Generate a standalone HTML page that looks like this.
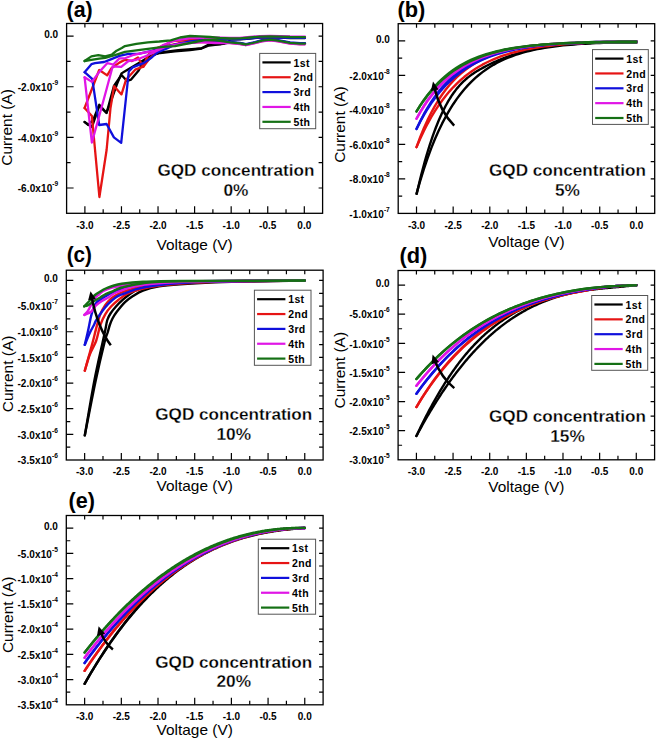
<!DOCTYPE html><html><head><meta charset="utf-8"><style>html,body{margin:0;padding:0;background:#fff;}svg{display:block}</style></head><body>
<svg width="656" height="739" viewBox="0 0 656 739">
<rect width="656" height="739" fill="#fff"/>
<g font-family='"Liberation Sans", sans-serif'>
<clipPath id="cpa"><rect x="66.6" y="23.5" width="256" height="189.8"/></clipPath>
<g clip-path="url(#cpa)" fill="none" stroke-width="2.3" stroke-linejoin="round" stroke-linecap="round">
<path d="M305 38.1 L290 38 L280 37.7 L270 37.4 L260 37.6 L250 38.5 L240 39.3 L230 39.5 L228.3 42.2 L221 44 L208.8 44.6 L201.5 48.3 L178.3 50.1 L164.6 51.8 L157.8 53 L147.9 57.5 L136.4 64.4 L125 71.2 L121.5 73.4 L116.9 84.3 L109.6 105 L106.4 112.8 L99.3 104.7 L93.2 119.9 L88.1 125 L84.6 122" stroke="#000000"/>
<path d="M84.6 122 L91.9 127 L99.2 106 L106.6 113 L113.9 86 L121.5 75 L127 81 L131.1 79.6 L138.7 70.5 L141.8 64.4 L150 56 L160 53 L175 51.4 L190 50 L201.5 48.5 L209 45.5 L225 43.5 L230 42.3 L240 43.3 L246 44.5 L255 42.5 L262 40.6 L270 39.7 L278 40.6 L290 42.8 L300 43.6 L305 43.6" stroke="#000000"/>
<path d="M305 37.5 L290 37.4 L280 37.1 L270 36.8 L260 37 L250 37.9 L240 38.7 L230 38.9 L220 40.5 L200 40 L180 40.5 L172 41 L165.8 44.6 L157 48 L151.2 52 L147.9 55.2 L143.3 66.7 L138 57.5 L132 61 L125 59.8 L119.4 62.6 L113.9 66.5 L111.5 68.1 L107.2 75.4 L101.1 71.2 L99.2 70 L91.9 89 L84.6 108" stroke="#e61414"/>
<path d="M84.6 108 L91.9 116 L99.4 197 L106.6 150 L110.5 108 L114.1 86.2 L121.5 94.4 L126 79.8 L135.2 69.7 L143.3 66.7 L150 58 L158 51 L166 46 L180 43 L200 42 L220 42 L230 42.8 L240 43.8 L246 45 L255 43 L262 41.1 L270 40.2 L278 41.1 L290 43.3 L300 44.1 L305 44.1" stroke="#e61414"/>
<path d="M305 43.2 L300 43.2 L290 42.4 L278 40.2 L270 39.3 L262 40.2 L255 42.1 L246 44.1 L240 42.9 L230 41.9 L210 40 L198 41.9 L180.4 43.7 L165.8 46.5 L154.8 50.1 L138.4 53.8 L128.5 53.8 L119.4 55.9 L110.2 59.6 L104.1 62 L95 63.2 L91.4 64.2 L84.6 72.2" stroke="#1010dc"/>
<path d="M84.6 72.2 L92.2 78.8 L99.2 125 L106.6 124 L113.9 137.4 L121.2 142.9 L128.8 71.5 L132.6 67.4 L144 62.9 L151.7 57.5 L157.8 52.2 L166.9 48.4 L175 44.6 L190 41.5 L210 39.5 L230 39.3 L240 39.1 L250 38.3 L260 37.4 L270 37.2 L280 37.5 L290 37.8 L305 37.9" stroke="#1010dc"/>
<path d="M305 36.6 L290 36.5 L280 36.2 L270 35.9 L260 36.1 L250 37 L240 37.8 L230 38 L210 37.5 L190 38 L175 40.5 L163.1 45 L155.5 50.7 L144 52.6 L132.6 55.2 L125 58.3 L119.4 58.4 L113.3 64.5 L107.2 63.2 L99.2 72 L91.9 81.9 L84.6 77.3" stroke="#e016e6"/>
<path d="M84.6 77.3 L91.9 142.5 L99.2 116 L106.6 89 L112.7 66.3 L121.2 66.9 L128.5 61 L136.4 59.8 L147.9 55.2 L157 50.7 L165 47 L180 44 L200 42 L215 43 L230 43 L240 44 L246 45.2 L255 43.2 L262 41.3 L270 40.4 L278 41.3 L290 43.5 L300 44.3 L305 44.3" stroke="#e016e6"/>
<path d="M84.6 61 L91.4 56.4 L98.3 55.2 L105.2 56.4 L112 54.5 L116.6 50.7 L121.8 48 L125 46.1 L136.4 43.8 L147.9 42.3 L159.3 41.5 L170.7 40.4 L180 37.5 L190 36 L200 36.3 L210 37 L220 38 L230 38.5 L240 38.3 L250 37.5 L260 36.6 L270 36.4 L280 36.7 L290 37 L305 37.1" stroke="#157015"/>
<path d="M84.6 61 L89.9 60.2 L99.1 58.7 L105.2 57.9 L112 56 L118.1 54.1 L125 51.8 L140.2 49.9 L151.7 48.4 L163.1 46.9 L175 46.1 L185 44 L195 42 L205 40 L215 40 L230 42.3 L240 43.3 L246 44.5 L255 42.5 L262 40.6 L270 39.7 L278 40.6 L290 42.8 L300 43.6 L305 43.6" stroke="#157015"/>
</g>
<rect x="66.6" y="23.5" width="256" height="189.8" fill="none" stroke="#000" stroke-width="1.3"/>
<path d="M84.89 213.3v-7 M103.17 213.3v-4 M121.46 213.3v-7 M139.74 213.3v-4 M158.03 213.3v-7 M176.31 213.3v-4 M194.6 213.3v-7 M212.89 213.3v-4 M231.17 213.3v-7 M249.46 213.3v-4 M267.74 213.3v-7 M286.03 213.3v-4 M304.31 213.3v-7 M84.89 23.5v4 M103.17 23.5v4 M121.46 23.5v4 M139.74 23.5v4 M158.03 23.5v4 M176.31 23.5v4 M194.6 23.5v4 M212.89 23.5v4 M231.17 23.5v4 M249.46 23.5v4 M267.74 23.5v4 M286.03 23.5v4 M304.31 23.5v4 M66.6 36.15h7 M322.6 36.15h-4 M66.6 61.46h4 M322.6 61.46h-4 M66.6 86.77h7 M322.6 86.77h-4 M66.6 112.07h4 M322.6 112.07h-4 M66.6 137.38h7 M322.6 137.38h-4 M66.6 162.69h4 M322.6 162.69h-4 M66.6 187.99h7 M322.6 187.99h-4" stroke="#000" stroke-width="1.2" fill="none"/>
<text x="84.89" y="228.6" font-size="10" font-weight="bold" text-anchor="middle">-3.0</text>
<text x="121.46" y="228.6" font-size="10" font-weight="bold" text-anchor="middle">-2.5</text>
<text x="158.03" y="228.6" font-size="10" font-weight="bold" text-anchor="middle">-2.0</text>
<text x="194.6" y="228.6" font-size="10" font-weight="bold" text-anchor="middle">-1.5</text>
<text x="231.17" y="228.6" font-size="10" font-weight="bold" text-anchor="middle">-1.0</text>
<text x="267.74" y="228.6" font-size="10" font-weight="bold" text-anchor="middle">-0.5</text>
<text x="304.31" y="228.6" font-size="10" font-weight="bold" text-anchor="middle">0.0</text>
<text x="58.2" y="38.05" font-size="10" font-weight="bold" text-anchor="end">0.0</text>
<text x="58.2" y="90.97" font-size="10" font-weight="bold" text-anchor="end" letter-spacing="0.1">-2.0x10<tspan font-size="6.6" dy="-5.9" letter-spacing="0">-9</tspan></text>
<text x="58.2" y="141.58" font-size="10" font-weight="bold" text-anchor="end" letter-spacing="0.1">-4.0x10<tspan font-size="6.6" dy="-5.9" letter-spacing="0">-9</tspan></text>
<text x="58.2" y="192.19" font-size="10" font-weight="bold" text-anchor="end" letter-spacing="0.1">-6.0x10<tspan font-size="6.6" dy="-5.9" letter-spacing="0">-9</tspan></text>
<rect x="259.7" y="53.4" width="56" height="75.3" fill="#fff" stroke="#555" stroke-width="1"/>
<line x1="262.4" y1="62.4" x2="290.7" y2="62.4" stroke="#000000" stroke-width="2.2"/>
<text x="293.5" y="66.5" font-size="10.5" font-weight="bold" letter-spacing="0.35">1st</text>
<line x1="262.4" y1="77.25" x2="290.7" y2="77.25" stroke="#e61414" stroke-width="2.2"/>
<text x="293.5" y="81.35" font-size="10.5" font-weight="bold" letter-spacing="0.35">2nd</text>
<line x1="262.4" y1="92.1" x2="290.7" y2="92.1" stroke="#1010dc" stroke-width="2.2"/>
<text x="293.5" y="96.2" font-size="10.5" font-weight="bold" letter-spacing="0.35">3rd</text>
<line x1="262.4" y1="106.95" x2="290.7" y2="106.95" stroke="#e016e6" stroke-width="2.2"/>
<text x="293.5" y="111.05" font-size="10.5" font-weight="bold" letter-spacing="0.35">4th</text>
<line x1="262.4" y1="121.8" x2="290.7" y2="121.8" stroke="#157015" stroke-width="2.2"/>
<text x="293.5" y="125.9" font-size="10.5" font-weight="bold" letter-spacing="0.35">5th</text>
<text x="66.5" y="16.8" font-size="21.3" font-weight="bold" textLength="26.2" lengthAdjust="spacingAndGlyphs">(a)</text>
<text x="194.6" y="249.9" font-size="15" text-anchor="middle" textLength="76.2" lengthAdjust="spacingAndGlyphs">Voltage (V)</text>
<text transform="translate(12.3 127.4) rotate(-90)" font-size="15.5" text-anchor="middle" textLength="76.5" lengthAdjust="spacingAndGlyphs">Current (A)</text>
<text x="235.9" y="175.6" font-size="17.3" font-weight="bold" text-anchor="middle" textLength="157" lengthAdjust="spacingAndGlyphs" stroke="#fff" stroke-width="0.28">GQD concentration</text>
<text x="235.9" y="195.8" font-size="17.3" font-weight="bold" text-anchor="middle" stroke="#fff" stroke-width="0.28">0%</text>
<clipPath id="cpb"><rect x="398.2" y="23.7" width="256.5" height="189.7"/></clipPath>
<g clip-path="url(#cpb)" fill="none" stroke-width="2.4" stroke-linejoin="round" stroke-linecap="round">
<path d="M416.52 193.67 L420.19 180.81 L423.85 169.03 L427.51 158.24 L431.18 148.35 L434.84 139.3 L438.51 131 L442.17 123.4 L445.84 116.44 L449.5 110.06 L453.16 104.22 L456.83 98.87 L460.49 93.97 L464.16 89.49 L467.82 85.38 L471.49 81.61 L475.15 78.17 L478.81 75.01 L482.48 72.12 L486.14 69.47 L489.81 67.05 L493.47 64.83 L497.14 62.8 L500.8 60.94 L504.46 59.24 L508.13 57.69 L511.79 56.26 L515.46 54.96 L519.12 53.77 L522.79 52.68 L526.45 51.69 L530.11 50.77 L533.78 49.94 L537.44 49.18 L541.11 48.49 L544.77 47.85 L548.44 47.28 L552.1 46.75 L555.76 46.27 L559.43 45.83 L563.09 45.43 L566.76 45.06 L570.42 44.73 L574.09 44.43 L577.75 44.16 L581.41 43.91 L585.08 43.69 L588.74 43.48 L592.41 43.3 L596.07 43.13 L599.74 42.98 L603.4 42.85 L607.06 42.73 L610.73 42.62 L614.39 42.52 L618.06 42.44 L621.72 42.36 L625.39 42.3 L629.05 42.24 L632.71 42.19 L636.38 42.14" stroke="#000000"/>
<path d="M416.7 193.86 L417.7 189.49 L418.7 185.22 L419.7 181.07 L420.7 177.02 L421.7 173.08 L422.7 169.24 L423.7 165.5 L424.7 161.86 L425.7 158.32 L426.7 154.88 L427.7 151.53 L428.7 148.28 L429.7 145.12 L430.7 142.05 L431.7 139.07 L432.7 136.18 L433.7 133.37 L434.7 130.65 L435.7 128.01 L436.7 125.45 L437.7 122.97 L438.7 120.57 L439.7 118.24 L440.7 115.99 L441.7 113.81 L442.7 111.71 L443.7 109.67 L444.7 107.7 L445.7 105.8 L446.7 103.97 L447.7 102.19 L448.7 100.48 L449.7 98.83 L450.7 97.24 L451.7 95.71 L452.7 94.23 L453.7 92.81 L454.7 91.44 L455.7 90.12 L456.7 88.85 L457.7 87.62 L458.7 86.45 L459.7 85.31 L460.7 84.22 L461.7 83.17 L462.7 82.17 L463.7 81.2 L464.7 80.26 L465.7 79.36 L466.7 78.5 L467.7 77.66 L468.7 76.86 L469.7 76.08 L470.7 75.34 L471.7 74.61 L472.7 73.92 L473.7 73.24 L474.7 72.58 L475.7 71.95 L476.7 71.33 L477.7 70.72 L478.7 70.13 L479.7 69.56 L480.7 68.99 L481.7 68.44 L482.7 67.89 L483.7 67.35 L484.7 66.82 L485.7 66.29 L486.7 65.78 L487.7 65.27 L488.7 64.77 L489.7 64.28 L490.7 63.79 L491.7 63.32 L492.7 62.85 L493.7 62.38 L494.7 61.93 L495.7 61.48 L496.7 61.04 L497.7 60.61 L498.7 60.18 L499.7 59.76 L500.7 59.35 L501.7 58.94 L502.7 58.54 L503.7 58.15 L504.7 57.76 L505.7 57.39 L506.7 57.01 L507.7 56.65 L508.7 56.29 L509.7 55.94 L510.7 55.59 L511.7 55.25 L512.7 54.92 L513.7 54.59 L514.7 54.27 L515.7 53.95 L516.7 53.64 L517.7 53.34 L518.7 53.04 L519.7 52.75 L520.7 52.46 L521.7 52.18 L522.7 51.91 L523.7 51.64 L524.7 51.37 L525.7 51.12 L526.7 50.86 L527.7 50.61 L528.7 50.37 L529.7 50.13 L530.7 49.9 L531.7 49.67 L532.7 49.45 L533.7 49.23 L534.7 49.02 L535.7 48.81 L536.7 48.61 L537.7 48.41 L538.7 48.22 L539.7 48.03 L540.7 47.84 L541.7 47.66 L542.7 47.49 L543.7 47.32 L544.7 47.15 L545.7 46.99 L546.7 46.83 L547.7 46.67 L548.7 46.52 L549.7 46.37 L550.7 46.23 L551.7 46.09 L552.7 45.95 L553.7 45.82 L554.7 45.69 L555.7 45.57 L556.7 45.45 L557.7 45.33 L558.7 45.21 L559.7 45.1 L560.7 44.99 L561.7 44.89 L562.7 44.79 L563.7 44.69 L564.7 44.59 L565.7 44.5 L566.7 44.41 L567.7 44.32 L568.7 44.24 L569.7 44.16 L570.7 44.08 L571.7 44 L572.7 43.93 L573.7 43.85 L574.7 43.79 L575.7 43.72 L576.7 43.65 L577.7 43.59 L578.7 43.53 L579.7 43.47 L580.7 43.42 L581.7 43.36 L582.7 43.31 L583.7 43.26 L584.7 43.21 L585.7 43.16 L586.7 43.12 L587.7 43.07 L588.7 43.03 L589.7 42.99 L590.7 42.95 L591.7 42.91 L592.7 42.87 L593.7 42.84 L594.7 42.8 L595.7 42.77 L596.7 42.74 L597.7 42.7 L598.7 42.67 L599.7 42.64 L600.7 42.61 L601.7 42.59 L602.7 42.56 L603.7 42.53 L604.7 42.5 L605.7 42.48 L606.7 42.45 L607.7 42.43 L608.7 42.4 L609.7 42.37 L610.7 42.35 L611.7 42.32 L612.7 42.3 L613.7 42.27 L614.7 42.25 L615.7 42.22 L616.7 42.2 L617.7 42.17 L618.7 42.15 L619.7 42.12 L620.7 42.09 L621.7 42.06 L622.7 42.04 L623.7 42.01 L624.7 41.98 L625.7 41.95 L626.7 41.92 L627.7 41.88 L628.7 41.85 L629.7 41.82 L630.7 41.78 L631.7 41.74 L632.7 41.71 L633.7 41.67 L634.7 41.63 L635.7 41.59 L636.6 41.55" stroke="#000000"/>
<path d="M416.52 147.14 L420.19 138.72 L423.85 130.96 L427.51 123.82 L431.18 117.23 L434.84 111.17 L438.51 105.58 L442.17 100.44 L445.84 95.7 L449.5 91.33 L453.16 87.31 L456.83 83.6 L460.49 80.19 L464.16 77.05 L467.82 74.15 L471.49 71.48 L475.15 69.03 L478.81 66.76 L482.48 64.68 L486.14 62.76 L489.81 60.99 L493.47 59.37 L497.14 57.87 L500.8 56.49 L504.46 55.21 L508.13 54.04 L511.79 52.97 L515.46 51.97 L519.12 51.06 L522.79 50.22 L526.45 49.45 L530.11 48.73 L533.78 48.08 L537.44 47.47 L541.11 46.92 L544.77 46.41 L548.44 45.94 L552.1 45.51 L555.76 45.11 L559.43 44.74 L563.09 44.41 L566.76 44.1 L570.42 43.82 L574.09 43.55 L577.75 43.32 L581.41 43.1 L585.08 42.89 L588.74 42.71 L592.41 42.54 L596.07 42.38 L599.74 42.24 L603.4 42.11 L607.06 41.99 L610.73 41.88 L614.39 41.78 L618.06 41.69 L621.72 41.61 L625.39 41.53 L629.05 41.46 L632.71 41.4 L636.38 41.34" stroke="#e61414"/>
<path d="M416.52 147.14 L420.19 137.25 L423.85 128.28 L427.51 120.15 L431.18 112.77 L434.84 106.09 L438.51 100.02 L442.17 94.52 L445.84 89.53 L449.5 85.01 L453.16 80.91 L456.83 77.2 L460.49 73.83 L464.16 70.77 L467.82 68.01 L471.49 65.5 L475.15 63.23 L478.81 61.17 L482.48 59.3 L486.14 57.61 L489.81 56.08 L493.47 54.69 L497.14 53.44 L500.8 52.3 L504.46 51.28 L508.13 50.35 L511.79 49.51 L515.46 48.75 L519.12 48.06 L522.79 47.44 L526.45 46.88 L530.11 46.38 L533.78 45.93 L537.44 45.52 L541.11 45.15 L544.77 44.82 L548.44 44.52 L552.1 44.25 L555.76 44.01 L559.43 43.8 L563.09 43.61 L566.76 43.44 L570.42 43.29 L574.09 43.16 L577.75 43.04 L581.41 42.94 L585.08 42.85 L588.74 42.77 L592.41 42.7 L596.07 42.64 L599.74 42.59 L603.4 42.55 L607.06 42.52 L610.73 42.49 L614.39 42.47 L618.06 42.45 L621.72 42.44 L625.39 42.44 L629.05 42.43 L632.71 42.44 L636.38 42.44" stroke="#e61414"/>
<path d="M416.52 128.9 L420.19 121.69 L423.85 115.07 L427.51 108.98 L431.18 103.4 L434.84 98.27 L438.51 93.56 L442.17 89.23 L445.84 85.26 L449.5 81.61 L453.16 78.26 L456.83 75.18 L460.49 72.35 L464.16 69.76 L467.82 67.37 L471.49 65.18 L475.15 63.17 L478.81 61.33 L482.48 59.63 L486.14 58.08 L489.81 56.65 L493.47 55.34 L497.14 54.13 L500.8 53.03 L504.46 52.01 L508.13 51.08 L511.79 50.23 L515.46 49.44 L519.12 48.72 L522.79 48.06 L526.45 47.46 L530.11 46.9 L533.78 46.39 L537.44 45.92 L541.11 45.49 L544.77 45.1 L548.44 44.74 L552.1 44.41 L555.76 44.11 L559.43 43.83 L563.09 43.58 L566.76 43.34 L570.42 43.13 L574.09 42.94 L577.75 42.76 L581.41 42.6 L585.08 42.45 L588.74 42.31 L592.41 42.19 L596.07 42.07 L599.74 41.97 L603.4 41.88 L607.06 41.79 L610.73 41.72 L614.39 41.65 L618.06 41.58 L621.72 41.52 L625.39 41.47 L629.05 41.43 L632.71 41.38 L636.38 41.34" stroke="#1010dc"/>
<path d="M416.52 128.9 L420.19 121.22 L423.85 114.21 L427.51 107.81 L431.18 101.97 L434.84 96.65 L438.51 91.78 L442.17 87.34 L445.84 83.29 L449.5 79.6 L453.16 76.23 L456.83 73.15 L460.49 70.34 L464.16 67.78 L467.82 65.44 L471.49 63.31 L475.15 61.37 L478.81 59.6 L482.48 57.98 L486.14 56.51 L489.81 55.17 L493.47 53.95 L497.14 52.83 L500.8 51.82 L504.46 50.89 L508.13 50.05 L511.79 49.29 L515.46 48.59 L519.12 47.96 L522.79 47.38 L526.45 46.86 L530.11 46.39 L533.78 45.96 L537.44 45.57 L541.11 45.21 L544.77 44.89 L548.44 44.6 L552.1 44.34 L555.76 44.11 L559.43 43.89 L563.09 43.7 L566.76 43.53 L570.42 43.38 L574.09 43.24 L577.75 43.12 L581.41 43.01 L585.08 42.92 L588.74 42.83 L592.41 42.76 L596.07 42.7 L599.74 42.64 L603.4 42.6 L607.06 42.56 L610.73 42.52 L614.39 42.5 L618.06 42.48 L621.72 42.46 L625.39 42.45 L629.05 42.44 L632.71 42.44 L636.38 42.44" stroke="#1010dc"/>
<path d="M416.52 118.72 L420.19 112.35 L423.85 106.49 L427.51 101.11 L431.18 96.17 L434.84 91.64 L438.51 87.47 L442.17 83.65 L445.84 80.13 L449.5 76.91 L453.16 73.94 L456.83 71.22 L460.49 68.72 L464.16 66.43 L467.82 64.32 L471.49 62.38 L475.15 60.61 L478.81 58.98 L482.48 57.48 L486.14 56.1 L489.81 54.84 L493.47 53.68 L497.14 52.62 L500.8 51.64 L504.46 50.74 L508.13 49.92 L511.79 49.17 L515.46 48.47 L519.12 47.84 L522.79 47.25 L526.45 46.72 L530.11 46.23 L533.78 45.78 L537.44 45.37 L541.11 44.99 L544.77 44.64 L548.44 44.32 L552.1 44.03 L555.76 43.77 L559.43 43.52 L563.09 43.3 L566.76 43.09 L570.42 42.91 L574.09 42.73 L577.75 42.58 L581.41 42.44 L585.08 42.3 L588.74 42.19 L592.41 42.08 L596.07 41.98 L599.74 41.89 L603.4 41.81 L607.06 41.73 L610.73 41.66 L614.39 41.6 L618.06 41.55 L621.72 41.5 L625.39 41.45 L629.05 41.41 L632.71 41.38 L636.38 41.34" stroke="#e016e6"/>
<path d="M416.52 118.72 L420.19 112 L423.85 105.86 L427.51 100.25 L431.18 95.13 L434.84 90.45 L438.51 86.17 L442.17 82.26 L445.84 78.7 L449.5 75.44 L453.16 72.46 L456.83 69.74 L460.49 67.26 L464.16 64.99 L467.82 62.92 L471.49 61.03 L475.15 59.31 L478.81 57.74 L482.48 56.3 L486.14 54.99 L489.81 53.8 L493.47 52.71 L497.14 51.71 L500.8 50.81 L504.46 49.98 L508.13 49.23 L511.79 48.55 L515.46 47.92 L519.12 47.36 L522.79 46.84 L526.45 46.37 L530.11 45.95 L533.78 45.56 L537.44 45.21 L541.11 44.89 L544.77 44.61 L548.44 44.35 L552.1 44.11 L555.76 43.9 L559.43 43.71 L563.09 43.54 L566.76 43.39 L570.42 43.25 L574.09 43.13 L577.75 43.02 L581.41 42.93 L585.08 42.84 L588.74 42.77 L592.41 42.7 L596.07 42.65 L599.74 42.6 L603.4 42.56 L607.06 42.53 L610.73 42.5 L614.39 42.48 L618.06 42.46 L621.72 42.45 L625.39 42.44 L629.05 42.44 L632.71 42.44 L636.38 42.44" stroke="#e016e6"/>
<path d="M416.52 111.39 L420.19 105.68 L423.85 100.43 L427.51 95.6 L431.18 91.16 L434.84 87.09 L438.51 83.33 L442.17 79.89 L445.84 76.72 L449.5 73.8 L453.16 71.12 L456.83 68.66 L460.49 66.4 L464.16 64.32 L467.82 62.41 L471.49 60.65 L475.15 59.03 L478.81 57.55 L482.48 56.18 L486.14 54.93 L489.81 53.78 L493.47 52.72 L497.14 51.75 L500.8 50.85 L504.46 50.03 L508.13 49.28 L511.79 48.58 L515.46 47.95 L519.12 47.36 L522.79 46.83 L526.45 46.33 L530.11 45.88 L533.78 45.46 L537.44 45.08 L541.11 44.73 L544.77 44.41 L548.44 44.12 L552.1 43.85 L555.76 43.6 L559.43 43.37 L563.09 43.17 L566.76 42.98 L570.42 42.8 L574.09 42.64 L577.75 42.5 L581.41 42.36 L585.08 42.24 L588.74 42.13 L592.41 42.03 L596.07 41.94 L599.74 41.85 L603.4 41.78 L607.06 41.71 L610.73 41.64 L614.39 41.59 L618.06 41.54 L621.72 41.49 L625.39 41.45 L629.05 41.41 L632.71 41.38 L636.38 41.34" stroke="#157015"/>
<path d="M416.52 111.39 L420.19 105.43 L423.85 99.98 L427.51 94.98 L431.18 90.41 L434.84 86.22 L438.51 82.39 L442.17 78.89 L445.84 75.68 L449.5 72.74 L453.16 70.06 L456.83 67.6 L460.49 65.35 L464.16 63.29 L467.82 61.41 L471.49 59.69 L475.15 58.11 L478.81 56.67 L482.48 55.36 L486.14 54.15 L489.81 53.06 L493.47 52.05 L497.14 51.13 L500.8 50.3 L504.46 49.53 L508.13 48.83 L511.79 48.2 L515.46 47.62 L519.12 47.09 L522.79 46.61 L526.45 46.17 L530.11 45.77 L533.78 45.41 L537.44 45.08 L541.11 44.78 L544.77 44.51 L548.44 44.26 L552.1 44.04 L555.76 43.84 L559.43 43.66 L563.09 43.5 L566.76 43.35 L570.42 43.22 L574.09 43.1 L577.75 43 L581.41 42.91 L585.08 42.83 L588.74 42.76 L592.41 42.69 L596.07 42.64 L599.74 42.59 L603.4 42.55 L607.06 42.52 L610.73 42.5 L614.39 42.48 L618.06 42.46 L621.72 42.45 L625.39 42.44 L629.05 42.44 L632.71 42.44 L636.38 42.44" stroke="#157015"/>
</g>
<path d="M454.2 125.7 Q440.3 111.71 434.45 88.11" fill="none" stroke="#000" stroke-width="2.5"/>
<path d="M433 81.5 L438.52 89.61 L430.86 91.07 Z" fill="#000"/>
<rect x="398.2" y="23.7" width="256.5" height="189.7" fill="none" stroke="#000" stroke-width="1.3"/>
<path d="M416.52 213.4v-7 M434.84 213.4v-4 M453.16 213.4v-7 M471.49 213.4v-4 M489.81 213.4v-7 M508.13 213.4v-4 M526.45 213.4v-7 M544.77 213.4v-4 M563.09 213.4v-7 M581.41 213.4v-4 M599.74 213.4v-7 M618.06 213.4v-4 M636.38 213.4v-7 M416.52 23.7v4 M434.84 23.7v4 M453.16 23.7v4 M471.49 23.7v4 M489.81 23.7v4 M508.13 23.7v4 M526.45 23.7v4 M544.77 23.7v4 M563.09 23.7v4 M581.41 23.7v4 M599.74 23.7v4 M618.06 23.7v4 M636.38 23.7v4 M398.2 40.95h7 M654.7 40.95h-4 M398.2 58.19h4 M654.7 58.19h-4 M398.2 75.44h7 M654.7 75.44h-4 M398.2 92.68h4 M654.7 92.68h-4 M398.2 109.93h7 M654.7 109.93h-4 M398.2 127.17h4 M654.7 127.17h-4 M398.2 144.42h7 M654.7 144.42h-4 M398.2 161.66h4 M654.7 161.66h-4 M398.2 178.91h7 M654.7 178.91h-4 M398.2 196.15h4 M654.7 196.15h-4" stroke="#000" stroke-width="1.2" fill="none"/>
<text x="416.52" y="228.7" font-size="10" font-weight="bold" text-anchor="middle">-3.0</text>
<text x="453.16" y="228.7" font-size="10" font-weight="bold" text-anchor="middle">-2.5</text>
<text x="489.81" y="228.7" font-size="10" font-weight="bold" text-anchor="middle">-2.0</text>
<text x="526.45" y="228.7" font-size="10" font-weight="bold" text-anchor="middle">-1.5</text>
<text x="563.09" y="228.7" font-size="10" font-weight="bold" text-anchor="middle">-1.0</text>
<text x="599.74" y="228.7" font-size="10" font-weight="bold" text-anchor="middle">-0.5</text>
<text x="636.38" y="228.7" font-size="10" font-weight="bold" text-anchor="middle">0.0</text>
<text x="389.8" y="42.85" font-size="10" font-weight="bold" text-anchor="end">0.0</text>
<text x="389.8" y="79.64" font-size="10" font-weight="bold" text-anchor="end" letter-spacing="0.1">-2.0x10<tspan font-size="6.6" dy="-5.9" letter-spacing="0">-8</tspan></text>
<text x="389.8" y="114.13" font-size="10" font-weight="bold" text-anchor="end" letter-spacing="0.1">-4.0x10<tspan font-size="6.6" dy="-5.9" letter-spacing="0">-8</tspan></text>
<text x="389.8" y="148.62" font-size="10" font-weight="bold" text-anchor="end" letter-spacing="0.1">-6.0x10<tspan font-size="6.6" dy="-5.9" letter-spacing="0">-8</tspan></text>
<text x="389.8" y="183.11" font-size="10" font-weight="bold" text-anchor="end" letter-spacing="0.1">-8.0x10<tspan font-size="6.6" dy="-5.9" letter-spacing="0">-8</tspan></text>
<text x="389.8" y="217.6" font-size="10" font-weight="bold" text-anchor="end" letter-spacing="0.1">-1.0x10<tspan font-size="6.6" dy="-5.9" letter-spacing="0">-7</tspan></text>
<rect x="592.5" y="49.6" width="55.8" height="74.8" fill="#fff" stroke="#555" stroke-width="1"/>
<line x1="595.2" y1="58.6" x2="623.5" y2="58.6" stroke="#000000" stroke-width="2.2"/>
<text x="626.3" y="62.7" font-size="10.5" font-weight="bold" letter-spacing="0.35">1st</text>
<line x1="595.2" y1="73.45" x2="623.5" y2="73.45" stroke="#e61414" stroke-width="2.2"/>
<text x="626.3" y="77.55" font-size="10.5" font-weight="bold" letter-spacing="0.35">2nd</text>
<line x1="595.2" y1="88.3" x2="623.5" y2="88.3" stroke="#1010dc" stroke-width="2.2"/>
<text x="626.3" y="92.4" font-size="10.5" font-weight="bold" letter-spacing="0.35">3rd</text>
<line x1="595.2" y1="103.15" x2="623.5" y2="103.15" stroke="#e016e6" stroke-width="2.2"/>
<text x="626.3" y="107.25" font-size="10.5" font-weight="bold" letter-spacing="0.35">4th</text>
<line x1="595.2" y1="118" x2="623.5" y2="118" stroke="#157015" stroke-width="2.2"/>
<text x="626.3" y="122.1" font-size="10.5" font-weight="bold" letter-spacing="0.35">5th</text>
<text x="397.5" y="17.1" font-size="21.3" font-weight="bold" textLength="27.9" lengthAdjust="spacingAndGlyphs">(b)</text>
<text x="526.45" y="247.2" font-size="15" text-anchor="middle" textLength="76.2" lengthAdjust="spacingAndGlyphs">Voltage (V)</text>
<text transform="translate(344.7 124.6) rotate(-90)" font-size="15.5" text-anchor="middle" textLength="76.5" lengthAdjust="spacingAndGlyphs">Current (A)</text>
<text x="567.5" y="175.6" font-size="17.3" font-weight="bold" text-anchor="middle" textLength="157" lengthAdjust="spacingAndGlyphs" stroke="#fff" stroke-width="0.28">GQD concentration</text>
<text x="567.5" y="195.8" font-size="17.3" font-weight="bold" text-anchor="middle" stroke="#fff" stroke-width="0.28">5%</text>
<clipPath id="cpc"><rect x="66.3" y="270.2" width="256.8" height="189.8"/></clipPath>
<g clip-path="url(#cpc)" fill="none" stroke-width="2.4" stroke-linejoin="round" stroke-linecap="round">
<path d="M84.8 435.4 C86.38 426.33 91.28 396.73 94.3 381 C97.32 365.27 101.07 349.5 102.9 341 C104.73 332.5 104.57 333.5 105.3 330 C106.03 326.5 106.43 322.75 107.3 320 C108.17 317.25 109.02 315.78 110.5 313.5 C111.98 311.22 114.13 308.6 116.2 306.3 C118.27 304 120.6 301.75 122.9 299.7 C125.2 297.65 127.53 295.7 130 294 C132.47 292.3 133.75 290.98 137.7 289.5 C141.65 288.02 147.48 286.18 153.7 285.1 C159.92 284.02 165.62 283.58 175 283 C184.38 282.42 197.5 281.93 210 281.6 C222.5 281.27 234.2 281.17 250 281 C265.8 280.83 295.67 280.67 304.8 280.6" stroke="#000000"/>
<path d="M84.8 435.4 C86.6 426.33 92.3 396.57 95.6 381 C98.9 365.43 102.62 350 104.6 342 C106.58 334 106.63 335.83 107.5 333 C108.37 330.17 108.97 327.42 109.8 325 C110.63 322.58 111.33 320.7 112.5 318.5 C113.67 316.3 114.72 314.53 116.8 311.8 C118.88 309.07 122.3 304.73 125 302.1 C127.7 299.47 130 297.93 133 296 C136 294.07 138.67 292.1 143 290.5 C147.33 288.9 152.83 287.45 159 286.4 C165.17 285.35 170.67 284.88 180 284.2 C189.33 283.52 203.33 282.78 215 282.3 C226.67 281.82 235.03 281.58 250 281.3 C264.97 281.02 295.67 280.72 304.8 280.6" stroke="#000000"/>
<path d="M84.8 370.7 C85.67 367.58 88.63 356.95 90 352 C91.37 347.05 91.88 345.27 93 341 C94.12 336.73 95.48 330.85 96.7 326.4 C97.92 321.95 98.88 317.85 100.3 314.3 C101.72 310.75 103.37 307.75 105.2 305.1 C107.03 302.45 109.45 300.08 111.3 298.4 C113.15 296.72 113.68 296.32 116.3 295 C118.92 293.68 122.55 291.92 127 290.5 C131.45 289.08 136.67 287.58 143 286.5 C149.33 285.42 155.5 284.75 165 284 C174.5 283.25 185.83 282.5 200 282 C214.17 281.5 232.53 281.23 250 281 C267.47 280.77 295.67 280.67 304.8 280.6" stroke="#e61414"/>
<path d="M84.8 370.7 C85.67 367.92 88.12 358.95 90 354 C91.88 349.05 94.38 345.8 96.1 341 C97.82 336.2 98.78 329.65 100.3 325.2 C101.82 320.75 103.37 317.45 105.2 314.3 C107.03 311.15 109.07 308.73 111.3 306.3 C113.53 303.87 115.98 301.75 118.6 299.7 C121.22 297.65 123.43 295.73 127 294 C130.57 292.27 134.5 290.72 140 289.3 C145.5 287.88 151.67 286.55 160 285.5 C168.33 284.45 178.33 283.67 190 283 C201.67 282.33 210.87 281.9 230 281.5 C249.13 281.1 292.33 280.75 304.8 280.6" stroke="#e61414"/>
<path d="M84.8 344.8 C85.33 342.5 86.97 335.72 88 331 C89.03 326.28 90.08 320.33 91 316.5 C91.92 312.67 92.58 310.33 93.5 308 C94.42 305.67 95.18 304 96.5 302.5 C97.82 301 99.95 300 101.4 299 C102.85 298 103.6 297.48 105.2 296.5 C106.8 295.52 108.53 294.18 111 293.1 C113.47 292.02 117.33 290.9 120 290 C122.67 289.1 123.17 288.62 127 287.7 C130.83 286.78 136.67 285.37 143 284.5 C149.33 283.63 155.5 283.03 165 282.5 C174.5 281.97 185.83 281.58 200 281.3 C214.17 281.02 232.53 280.92 250 280.8 C267.47 280.68 295.67 280.63 304.8 280.6" stroke="#1010dc"/>
<path d="M84.8 344.8 C85.67 342.75 88.43 335.88 90 332.5 C91.57 329.12 93.18 326.53 94.2 324.5 C95.22 322.47 94.77 322.52 96.1 320.3 C97.43 318.08 100.17 313.93 102.2 311.2 C104.23 308.47 106.07 306.18 108.3 303.9 C110.53 301.62 113.37 299.07 115.6 297.5 C117.83 295.93 118.02 295.95 121.7 294.5 C125.38 293.05 132.15 290.3 137.7 288.8 C143.25 287.3 147.95 286.47 155 285.5 C162.05 284.53 169.17 283.67 180 283 C190.83 282.33 199.2 281.9 220 281.5 C240.8 281.1 290.67 280.75 304.8 280.6" stroke="#1010dc"/>
<path d="M84.4 314.9 C85.02 314.18 86.83 312.58 88.1 310.6 C89.37 308.62 90.85 305.13 92 303 C93.15 300.87 93.73 299.3 95 297.8 C96.27 296.3 98.18 295.13 99.6 294 C101.02 292.87 101.42 292.05 103.5 291 C105.58 289.95 108.52 288.7 112.1 287.7 C115.68 286.7 119.52 285.78 125 285 C130.48 284.22 136.67 283.53 145 283 C153.33 282.47 162.5 282.13 175 281.8 C187.5 281.47 198.37 281.2 220 281 C241.63 280.8 290.67 280.67 304.8 280.6" stroke="#e016e6"/>
<path d="M84.4 314.9 C85.52 314.38 89.17 313.37 91.1 311.8 C93.03 310.23 94.18 307.3 96 305.5 C97.82 303.7 99.95 302.33 102 301 C104.05 299.67 105.92 298.92 108.3 297.5 C110.68 296.08 112.3 294.28 116.3 292.5 C120.3 290.72 126.68 288.22 132.3 286.8 C137.92 285.38 142.05 284.8 150 284 C157.95 283.2 166.67 282.5 180 282 C193.33 281.5 209.2 281.23 230 281 C250.8 280.77 292.33 280.67 304.8 280.6" stroke="#e016e6"/>
<path d="M84.2 306.3 C85.15 305.33 88.1 302.38 89.9 300.5 C91.7 298.62 93.27 296.5 95 295 C96.73 293.5 98.52 292.58 100.3 291.5 C102.08 290.42 103.67 289.42 105.7 288.5 C107.73 287.58 109.83 286.78 112.5 286 C115.17 285.22 116.62 284.5 121.7 283.8 C126.78 283.1 133.28 282.28 143 281.8 C152.72 281.32 153.03 281.12 180 280.9 C206.97 280.68 284 280.57 304.8 280.5" stroke="#157015"/>
<path d="M84.2 306.3 C84.85 306.1 86.3 306.07 88.1 305.1 C89.9 304.13 92.97 301.77 95 300.5 C97.03 299.23 98.52 298.58 100.3 297.5 C102.08 296.42 103.67 295.03 105.7 294 C107.73 292.97 109.83 292.38 112.5 291.3 C115.17 290.22 116.62 288.85 121.7 287.5 C126.78 286.15 133.28 284.22 143 283.2 C152.72 282.18 153.03 281.83 180 281.4 C206.97 280.97 284 280.73 304.8 280.6" stroke="#157015"/>
</g>
<path d="M110.8 345.3 Q98.01 328.06 91.69 297.4" fill="none" stroke="#000" stroke-width="2.5"/>
<path d="M90.5 291.2 L95.83 298.89 L88.15 300.25 Z" fill="#000"/>
<rect x="66.3" y="270.2" width="256.8" height="189.8" fill="none" stroke="#000" stroke-width="1.3"/>
<path d="M84.64 460v-7 M102.99 460v-4 M121.33 460v-7 M139.67 460v-4 M158.01 460v-7 M176.36 460v-4 M194.7 460v-7 M213.04 460v-4 M231.39 460v-7 M249.73 460v-4 M268.07 460v-7 M286.41 460v-4 M304.76 460v-7 M84.64 270.2v4 M102.99 270.2v4 M121.33 270.2v4 M139.67 270.2v4 M158.01 270.2v4 M176.36 270.2v4 M194.7 270.2v4 M213.04 270.2v4 M231.39 270.2v4 M249.73 270.2v4 M268.07 270.2v4 M286.41 270.2v4 M304.76 270.2v4 M66.3 280.46h7 M323.1 280.46h-4 M66.3 293.28h4 M323.1 293.28h-4 M66.3 306.11h7 M323.1 306.11h-4 M66.3 318.93h4 M323.1 318.93h-4 M66.3 331.76h7 M323.1 331.76h-4 M66.3 344.58h4 M323.1 344.58h-4 M66.3 357.41h7 M323.1 357.41h-4 M66.3 370.23h4 M323.1 370.23h-4 M66.3 383.05h7 M323.1 383.05h-4 M66.3 395.88h4 M323.1 395.88h-4 M66.3 408.7h7 M323.1 408.7h-4 M66.3 421.53h4 M323.1 421.53h-4 M66.3 434.35h7 M323.1 434.35h-4 M66.3 447.18h4 M323.1 447.18h-4" stroke="#000" stroke-width="1.2" fill="none"/>
<text x="84.64" y="475.3" font-size="10" font-weight="bold" text-anchor="middle">-3.0</text>
<text x="121.33" y="475.3" font-size="10" font-weight="bold" text-anchor="middle">-2.5</text>
<text x="158.01" y="475.3" font-size="10" font-weight="bold" text-anchor="middle">-2.0</text>
<text x="194.7" y="475.3" font-size="10" font-weight="bold" text-anchor="middle">-1.5</text>
<text x="231.39" y="475.3" font-size="10" font-weight="bold" text-anchor="middle">-1.0</text>
<text x="268.07" y="475.3" font-size="10" font-weight="bold" text-anchor="middle">-0.5</text>
<text x="304.76" y="475.3" font-size="10" font-weight="bold" text-anchor="middle">0.0</text>
<text x="57.9" y="282.36" font-size="10" font-weight="bold" text-anchor="end">0.0</text>
<text x="57.9" y="310.31" font-size="10" font-weight="bold" text-anchor="end" letter-spacing="0.1">-5.0x10<tspan font-size="6.6" dy="-5.9" letter-spacing="0">-7</tspan></text>
<text x="57.9" y="335.96" font-size="10" font-weight="bold" text-anchor="end" letter-spacing="0.1">-1.0x10<tspan font-size="6.6" dy="-5.9" letter-spacing="0">-6</tspan></text>
<text x="57.9" y="361.61" font-size="10" font-weight="bold" text-anchor="end" letter-spacing="0.1">-1.5x10<tspan font-size="6.6" dy="-5.9" letter-spacing="0">-6</tspan></text>
<text x="57.9" y="387.25" font-size="10" font-weight="bold" text-anchor="end" letter-spacing="0.1">-2.0x10<tspan font-size="6.6" dy="-5.9" letter-spacing="0">-6</tspan></text>
<text x="57.9" y="412.9" font-size="10" font-weight="bold" text-anchor="end" letter-spacing="0.1">-2.5x10<tspan font-size="6.6" dy="-5.9" letter-spacing="0">-6</tspan></text>
<text x="57.9" y="438.55" font-size="10" font-weight="bold" text-anchor="end" letter-spacing="0.1">-3.0x10<tspan font-size="6.6" dy="-5.9" letter-spacing="0">-6</tspan></text>
<text x="57.9" y="464.2" font-size="10" font-weight="bold" text-anchor="end" letter-spacing="0.1">-3.5x10<tspan font-size="6.6" dy="-5.9" letter-spacing="0">-6</tspan></text>
<rect x="254.4" y="290.2" width="56.6" height="75.1" fill="#fff" stroke="#555" stroke-width="1"/>
<line x1="257.1" y1="299.2" x2="285.4" y2="299.2" stroke="#000000" stroke-width="2.2"/>
<text x="288.2" y="303.3" font-size="10.5" font-weight="bold" letter-spacing="0.35">1st</text>
<line x1="257.1" y1="314.05" x2="285.4" y2="314.05" stroke="#e61414" stroke-width="2.2"/>
<text x="288.2" y="318.15" font-size="10.5" font-weight="bold" letter-spacing="0.35">2nd</text>
<line x1="257.1" y1="328.9" x2="285.4" y2="328.9" stroke="#1010dc" stroke-width="2.2"/>
<text x="288.2" y="333" font-size="10.5" font-weight="bold" letter-spacing="0.35">3rd</text>
<line x1="257.1" y1="343.75" x2="285.4" y2="343.75" stroke="#e016e6" stroke-width="2.2"/>
<text x="288.2" y="347.85" font-size="10.5" font-weight="bold" letter-spacing="0.35">4th</text>
<line x1="257.1" y1="358.6" x2="285.4" y2="358.6" stroke="#157015" stroke-width="2.2"/>
<text x="288.2" y="362.7" font-size="10.5" font-weight="bold" letter-spacing="0.35">5th</text>
<text x="66.7" y="262.4" font-size="21.3" font-weight="bold" textLength="25.3" lengthAdjust="spacingAndGlyphs">(c)</text>
<text x="194.7" y="490.8" font-size="15" text-anchor="middle" textLength="76.2" lengthAdjust="spacingAndGlyphs">Voltage (V)</text>
<text transform="translate(12.7 373.9) rotate(-90)" font-size="15.5" text-anchor="middle" textLength="76.5" lengthAdjust="spacingAndGlyphs">Current (A)</text>
<text x="233.8" y="420.3" font-size="17.3" font-weight="bold" text-anchor="middle" textLength="157" lengthAdjust="spacingAndGlyphs" stroke="#fff" stroke-width="0.28">GQD concentration</text>
<text x="233.8" y="440.2" font-size="17.3" font-weight="bold" text-anchor="middle" stroke="#fff" stroke-width="0.28">10%</text>
<clipPath id="cpd"><rect x="398.1" y="270.5" width="256.5" height="189.3"/></clipPath>
<g clip-path="url(#cpd)" fill="none" stroke-width="2.4" stroke-linejoin="round" stroke-linecap="round">
<path d="M416.4 436.02 L417.4 433.89 L418.4 431.78 L419.4 429.69 L420.4 427.62 L421.4 425.58 L422.4 423.55 L423.4 421.54 L424.4 419.56 L425.4 417.59 L426.4 415.64 L427.4 413.72 L428.4 411.81 L429.4 409.92 L430.4 408.06 L431.4 406.21 L432.4 404.38 L433.4 402.58 L434.4 400.79 L435.4 399.02 L436.4 397.27 L437.4 395.54 L438.4 393.83 L439.4 392.14 L440.4 390.47 L441.4 388.82 L442.4 387.19 L443.4 385.57 L444.4 383.98 L445.4 382.4 L446.4 380.85 L447.4 379.31 L448.4 377.79 L449.4 376.29 L450.4 374.81 L451.4 373.35 L452.4 371.91 L453.4 370.48 L454.4 369.08 L455.4 367.69 L456.4 366.32 L457.4 364.97 L458.4 363.64 L459.4 362.33 L460.4 361.03 L461.4 359.76 L462.4 358.5 L463.4 357.25 L464.4 356.03 L465.4 354.82 L466.4 353.63 L467.4 352.45 L468.4 351.3 L469.4 350.15 L470.4 349.03 L471.4 347.92 L472.4 346.82 L473.4 345.75 L474.4 344.68 L475.4 343.63 L476.4 342.6 L477.4 341.58 L478.4 340.58 L479.4 339.59 L480.4 338.62 L481.4 337.66 L482.4 336.71 L483.4 335.78 L484.4 334.86 L485.4 333.96 L486.4 333.07 L487.4 332.19 L488.4 331.32 L489.4 330.47 L490.4 329.63 L491.4 328.8 L492.4 327.99 L493.4 327.19 L494.4 326.4 L495.4 325.62 L496.4 324.85 L497.4 324.09 L498.4 323.35 L499.4 322.61 L500.4 321.89 L501.4 321.18 L502.4 320.47 L503.4 319.78 L504.4 319.1 L505.4 318.43 L506.4 317.77 L507.4 317.12 L508.4 316.49 L509.4 315.86 L510.4 315.24 L511.4 314.63 L512.4 314.03 L513.4 313.44 L514.4 312.86 L515.4 312.29 L516.4 311.73 L517.4 311.18 L518.4 310.64 L519.4 310.1 L520.4 309.58 L521.4 309.06 L522.4 308.56 L523.4 308.06 L524.4 307.57 L525.4 307.09 L526.4 306.62 L527.4 306.16 L528.4 305.7 L529.4 305.26 L530.4 304.82 L531.4 304.39 L532.4 303.96 L533.4 303.55 L534.4 303.14 L535.4 302.74 L536.4 302.35 L537.4 301.97 L538.4 301.59 L539.4 301.22 L540.4 300.86 L541.4 300.5 L542.4 300.15 L543.4 299.81 L544.4 299.48 L545.4 299.15 L546.4 298.83 L547.4 298.51 L548.4 298.21 L549.4 297.9 L550.4 297.61 L551.4 297.32 L552.4 297.03 L553.4 296.76 L554.4 296.48 L555.4 296.22 L556.4 295.96 L557.4 295.7 L558.4 295.45 L559.4 295.21 L560.4 294.97 L561.4 294.74 L562.4 294.51 L563.4 294.29 L564.4 294.07 L565.4 293.85 L566.4 293.64 L567.4 293.44 L568.4 293.24 L569.4 293.05 L570.4 292.85 L571.4 292.67 L572.4 292.48 L573.4 292.31 L574.4 292.13 L575.4 291.96 L576.4 291.79 L577.4 291.63 L578.4 291.47 L579.4 291.31 L580.4 291.16 L581.4 291.01 L582.4 290.87 L583.4 290.72 L584.4 290.58 L585.4 290.45 L586.4 290.31 L587.4 290.18 L588.4 290.05 L589.4 289.92 L590.4 289.8 L591.4 289.68 L592.4 289.56 L593.4 289.44 L594.4 289.33 L595.4 289.21 L596.4 289.1 L597.4 288.99 L598.4 288.88 L599.4 288.78 L600.4 288.67 L601.4 288.57 L602.4 288.47 L603.4 288.37 L604.4 288.27 L605.4 288.17 L606.4 288.07 L607.4 287.97 L608.4 287.88 L609.4 287.78 L610.4 287.69 L611.4 287.59 L612.4 287.5 L613.4 287.41 L614.4 287.31 L615.4 287.22 L616.4 287.13 L617.4 287.03 L618.4 286.94 L619.4 286.85 L620.4 286.75 L621.4 286.66 L622.4 286.56 L623.4 286.46 L624.4 286.37 L625.4 286.27 L626.4 286.17 L627.4 286.07 L628.4 285.97 L629.4 285.87 L630.4 285.77 L631.4 285.66 L632.4 285.55 L633.4 285.45 L634.4 285.34 L635.4 285.22 L636.4 285.11 L636.6 285.09" stroke="#000000"/>
<path d="M416.4 436.02 L417.4 434.14 L418.4 432.29 L419.4 430.45 L420.4 428.62 L421.4 426.81 L422.4 425.02 L423.4 423.24 L424.4 421.47 L425.4 419.72 L426.4 417.99 L427.4 416.27 L428.4 414.56 L429.4 412.87 L430.4 411.19 L431.4 409.53 L432.4 407.88 L433.4 406.25 L434.4 404.63 L435.4 403.03 L436.4 401.44 L437.4 399.87 L438.4 398.3 L439.4 396.76 L440.4 395.23 L441.4 393.71 L442.4 392.2 L443.4 390.71 L444.4 389.23 L445.4 387.77 L446.4 386.32 L447.4 384.89 L448.4 383.46 L449.4 382.06 L450.4 380.66 L451.4 379.28 L452.4 377.91 L453.4 376.56 L454.4 375.22 L455.4 373.89 L456.4 372.57 L457.4 371.27 L458.4 369.98 L459.4 368.71 L460.4 367.44 L461.4 366.19 L462.4 364.96 L463.4 363.73 L464.4 362.52 L465.4 361.32 L466.4 360.14 L467.4 358.96 L468.4 357.8 L469.4 356.65 L470.4 355.52 L471.4 354.39 L472.4 353.28 L473.4 352.18 L474.4 351.09 L475.4 350.02 L476.4 348.95 L477.4 347.9 L478.4 346.86 L479.4 345.84 L480.4 344.82 L481.4 343.82 L482.4 342.82 L483.4 341.84 L484.4 340.88 L485.4 339.92 L486.4 338.97 L487.4 338.04 L488.4 337.11 L489.4 336.2 L490.4 335.3 L491.4 334.41 L492.4 333.53 L493.4 332.67 L494.4 331.81 L495.4 330.96 L496.4 330.13 L497.4 329.31 L498.4 328.49 L499.4 327.69 L500.4 326.9 L501.4 326.12 L502.4 325.35 L503.4 324.59 L504.4 323.84 L505.4 323.1 L506.4 322.37 L507.4 321.65 L508.4 320.94 L509.4 320.24 L510.4 319.55 L511.4 318.87 L512.4 318.2 L513.4 317.54 L514.4 316.89 L515.4 316.25 L516.4 315.62 L517.4 315 L518.4 314.38 L519.4 313.78 L520.4 313.18 L521.4 312.6 L522.4 312.02 L523.4 311.45 L524.4 310.89 L525.4 310.34 L526.4 309.8 L527.4 309.27 L528.4 308.74 L529.4 308.22 L530.4 307.72 L531.4 307.22 L532.4 306.72 L533.4 306.24 L534.4 305.76 L535.4 305.3 L536.4 304.84 L537.4 304.38 L538.4 303.94 L539.4 303.5 L540.4 303.07 L541.4 302.65 L542.4 302.23 L543.4 301.83 L544.4 301.43 L545.4 301.03 L546.4 300.65 L547.4 300.27 L548.4 299.9 L549.4 299.53 L550.4 299.17 L551.4 298.82 L552.4 298.48 L553.4 298.14 L554.4 297.81 L555.4 297.48 L556.4 297.16 L557.4 296.85 L558.4 296.54 L559.4 296.24 L560.4 295.94 L561.4 295.65 L562.4 295.37 L563.4 295.09 L564.4 294.82 L565.4 294.55 L566.4 294.29 L567.4 294.04 L568.4 293.79 L569.4 293.54 L570.4 293.3 L571.4 293.07 L572.4 292.84 L573.4 292.61 L574.4 292.39 L575.4 292.18 L576.4 291.97 L577.4 291.76 L578.4 291.56 L579.4 291.37 L580.4 291.18 L581.4 290.99 L582.4 290.81 L583.4 290.63 L584.4 290.45 L585.4 290.28 L586.4 290.11 L587.4 289.95 L588.4 289.79 L589.4 289.64 L590.4 289.48 L591.4 289.34 L592.4 289.19 L593.4 289.05 L594.4 288.91 L595.4 288.78 L596.4 288.65 L597.4 288.52 L598.4 288.39 L599.4 288.27 L600.4 288.15 L601.4 288.03 L602.4 287.92 L603.4 287.81 L604.4 287.7 L605.4 287.59 L606.4 287.49 L607.4 287.39 L608.4 287.29 L609.4 287.19 L610.4 287.1 L611.4 287 L612.4 286.91 L613.4 286.82 L614.4 286.74 L615.4 286.65 L616.4 286.57 L617.4 286.48 L618.4 286.4 L619.4 286.32 L620.4 286.25 L621.4 286.17 L622.4 286.09 L623.4 286.02 L624.4 285.94 L625.4 285.87 L626.4 285.8 L627.4 285.73 L628.4 285.66 L629.4 285.59 L630.4 285.52 L631.4 285.45 L632.4 285.38 L633.4 285.31 L634.4 285.25 L635.4 285.18 L636.4 285.11 L636.6 285.1" stroke="#000000"/>
<path d="M416.42 407.09 L419.17 402.45 L421.92 397.98 L424.67 393.65 L427.41 389.48 L430.16 385.44 L432.91 381.55 L435.66 377.78 L438.41 374.15 L441.16 370.64 L443.9 367.25 L446.65 363.98 L449.4 360.82 L452.15 357.78 L454.9 354.83 L457.64 352 L460.39 349.26 L463.14 346.61 L465.89 344.06 L468.64 341.61 L471.39 339.23 L474.13 336.95 L476.88 334.74 L479.63 332.61 L482.38 330.56 L485.13 328.59 L487.88 326.68 L490.62 324.84 L493.37 323.07 L496.12 321.37 L498.87 319.73 L501.62 318.14 L504.36 316.62 L507.11 315.15 L509.86 313.74 L512.61 312.38 L515.36 311.07 L518.11 309.81 L520.85 308.6 L523.6 307.43 L526.35 306.31 L529.1 305.23 L531.85 304.2 L534.59 303.2 L537.34 302.24 L540.09 301.32 L542.84 300.44 L545.59 299.59 L548.34 298.77 L551.08 297.99 L553.83 297.24 L556.58 296.51 L559.33 295.82 L562.08 295.16 L564.83 294.52 L567.57 293.91 L570.32 293.33 L573.07 292.77 L575.82 292.23 L578.57 291.72 L581.31 291.22 L584.06 290.75 L586.81 290.24 L589.56 289.73 L592.31 289.24 L595.06 288.78 L597.8 288.35 L600.55 287.95 L603.3 287.58 L606.05 287.23 L608.8 286.91 L611.54 286.63 L614.29 286.37 L617.04 286.13 L619.79 285.93 L622.54 285.76 L625.29 285.63 L628.03 285.53 L630.78 285.45 L633.53 285.39 L636.28 285.36" stroke="#e61414"/>
<path d="M416.42 407.09 L419.17 402.57 L421.92 398.2 L424.67 393.97 L427.41 389.88 L430.16 385.92 L432.91 382.1 L435.66 378.4 L438.41 374.82 L441.16 371.35 L443.9 368.01 L446.65 364.77 L449.4 361.64 L452.15 358.62 L454.9 355.69 L457.64 352.87 L460.39 350.14 L463.14 347.5 L465.89 344.96 L468.64 342.5 L471.39 340.12 L474.13 337.83 L476.88 335.61 L479.63 333.47 L482.38 331.4 L485.13 329.41 L487.88 327.49 L490.62 325.63 L493.37 323.84 L496.12 322.11 L498.87 320.44 L501.62 318.84 L504.36 317.29 L507.11 315.79 L509.86 314.35 L512.61 312.97 L515.36 311.63 L518.11 310.34 L520.85 309.1 L523.6 307.91 L526.35 306.76 L529.1 305.65 L531.85 304.59 L534.59 303.56 L537.34 302.57 L540.09 301.63 L542.84 300.72 L545.59 299.84 L548.34 299 L551.08 298.19 L553.83 297.41 L556.58 296.67 L559.33 295.95 L562.08 295.27 L564.83 294.61 L567.57 293.98 L570.32 293.37 L573.07 292.79 L575.82 292.24 L578.57 291.71 L581.31 291.2 L584.06 290.72 L586.81 290.19 L589.56 289.67 L592.31 289.18 L595.06 288.72 L597.8 288.29 L600.55 287.89 L603.3 287.52 L606.05 287.18 L608.8 286.87 L611.54 286.59 L614.29 286.33 L617.04 286.11 L619.79 285.92 L622.54 285.76 L625.29 285.63 L628.03 285.53 L630.78 285.45 L633.53 285.39 L636.28 285.36" stroke="#e61414"/>
<path d="M416.42 393.69 L419.17 389.86 L421.92 386.15 L424.67 382.55 L427.41 379.06 L430.16 375.67 L432.91 372.38 L435.66 369.19 L438.41 366.1 L441.16 363.11 L443.9 360.2 L446.65 357.38 L449.4 354.65 L452.15 352.01 L454.9 349.44 L457.64 346.96 L460.39 344.55 L463.14 342.22 L465.89 339.97 L468.64 337.78 L471.39 335.66 L474.13 333.61 L476.88 331.63 L479.63 329.71 L482.38 327.85 L485.13 326.05 L487.88 324.31 L490.62 322.63 L493.37 321 L496.12 319.43 L498.87 317.91 L501.62 316.44 L504.36 315.02 L507.11 313.65 L509.86 312.32 L512.61 311.05 L515.36 309.81 L518.11 308.62 L520.85 307.47 L523.6 306.36 L526.35 305.29 L529.1 304.25 L531.85 303.26 L534.59 302.3 L537.34 301.37 L540.09 300.48 L542.84 299.63 L545.59 298.8 L548.34 298.01 L551.08 297.24 L553.83 296.51 L556.58 295.8 L559.33 295.13 L562.08 294.48 L564.83 293.85 L567.57 293.26 L570.32 292.68 L573.07 292.13 L575.82 291.61 L578.57 291.1 L581.31 290.62 L584.06 290.16 L586.81 289.69 L589.56 289.22 L592.31 288.79 L595.06 288.38 L597.8 288 L600.55 287.64 L603.3 287.31 L606.05 287.01 L608.8 286.73 L611.54 286.48 L614.29 286.26 L617.04 286.06 L619.79 285.89 L622.54 285.74 L625.29 285.63 L628.03 285.53 L630.78 285.45 L633.53 285.39 L636.28 285.36" stroke="#1010dc"/>
<path d="M416.42 393.69 L419.17 389.92 L421.92 386.25 L424.67 382.69 L427.41 379.24 L430.16 375.88 L432.91 372.62 L435.66 369.46 L438.41 366.39 L441.16 363.42 L443.9 360.53 L446.65 357.72 L449.4 355 L452.15 352.37 L454.9 349.81 L457.64 347.33 L460.39 344.92 L463.14 342.59 L465.89 340.33 L468.64 338.14 L471.39 336.02 L474.13 333.96 L476.88 331.97 L479.63 330.04 L482.38 328.17 L485.13 326.36 L487.88 324.61 L490.62 322.92 L493.37 321.28 L496.12 319.69 L498.87 318.15 L501.62 316.67 L504.36 315.24 L507.11 313.85 L509.86 312.51 L512.61 311.21 L515.36 309.96 L518.11 308.75 L520.85 307.59 L523.6 306.46 L526.35 305.38 L529.1 304.33 L531.85 303.32 L534.59 302.35 L537.34 301.41 L540.09 300.5 L542.84 299.63 L545.59 298.8 L548.34 297.99 L551.08 297.22 L553.83 296.47 L556.58 295.75 L559.33 295.07 L562.08 294.41 L564.83 293.78 L567.57 293.17 L570.32 292.59 L573.07 292.03 L575.82 291.5 L578.57 290.99 L581.31 290.51 L584.06 290.04 L586.81 289.57 L589.56 289.12 L592.31 288.69 L595.06 288.28 L597.8 287.91 L600.55 287.57 L603.3 287.25 L606.05 286.95 L608.8 286.69 L611.54 286.45 L614.29 286.23 L617.04 286.04 L619.79 285.88 L622.54 285.74 L625.29 285.63 L628.03 285.53 L630.78 285.45 L633.53 285.39 L636.28 285.36" stroke="#1010dc"/>
<path d="M416.42 385.77 L419.17 382.29 L421.92 378.92 L424.67 375.64 L427.41 372.45 L430.16 369.35 L432.91 366.34 L435.66 363.42 L438.41 360.59 L441.16 357.83 L443.9 355.16 L446.65 352.56 L449.4 350.04 L452.15 347.6 L454.9 345.22 L457.64 342.92 L460.39 340.69 L463.14 338.52 L465.89 336.42 L468.64 334.39 L471.39 332.41 L474.13 330.5 L476.88 328.64 L479.63 326.85 L482.38 325.11 L485.13 323.42 L487.88 321.79 L490.62 320.21 L493.37 318.68 L496.12 317.2 L498.87 315.77 L501.62 314.38 L504.36 313.04 L507.11 311.75 L509.86 310.49 L512.61 309.28 L515.36 308.12 L518.11 306.99 L520.85 305.9 L523.6 304.84 L526.35 303.83 L529.1 302.85 L531.85 301.91 L534.59 301 L537.34 300.12 L540.09 299.27 L542.84 298.46 L545.59 297.68 L548.34 296.93 L551.08 296.2 L553.83 295.51 L556.58 294.84 L559.33 294.2 L562.08 293.59 L564.83 293 L567.57 292.43 L570.32 291.89 L573.07 291.38 L575.82 290.88 L578.57 290.41 L581.31 289.96 L584.06 289.54 L586.81 289.12 L589.56 288.72 L592.31 288.35 L595.06 288 L597.8 287.68 L600.55 287.37 L603.3 287.09 L606.05 286.83 L608.8 286.59 L611.54 286.38 L614.29 286.18 L617.04 286.01 L619.79 285.86 L622.54 285.73 L625.29 285.63 L628.03 285.53 L630.78 285.45 L633.53 285.39 L636.28 285.36" stroke="#e016e6"/>
<path d="M416.42 385.77 L419.17 382.32 L421.92 378.96 L424.67 375.7 L427.41 372.53 L430.16 369.45 L432.91 366.45 L435.66 363.54 L438.41 360.71 L441.16 357.96 L443.9 355.29 L446.65 352.7 L449.4 350.18 L452.15 347.73 L454.9 345.36 L457.64 343.06 L460.39 340.82 L463.14 338.65 L465.89 336.55 L468.64 334.5 L471.39 332.52 L474.13 330.6 L476.88 328.74 L479.63 326.94 L482.38 325.19 L485.13 323.5 L487.88 321.85 L490.62 320.26 L493.37 318.73 L496.12 317.24 L498.87 315.79 L501.62 314.4 L504.36 313.05 L507.11 311.74 L509.86 310.48 L512.61 309.26 L515.36 308.08 L518.11 306.95 L520.85 305.85 L523.6 304.79 L526.35 303.76 L529.1 302.78 L531.85 301.82 L534.59 300.91 L537.34 300.02 L540.09 299.17 L542.84 298.35 L545.59 297.56 L548.34 296.81 L551.08 296.08 L553.83 295.38 L556.58 294.71 L559.33 294.06 L562.08 293.45 L564.83 292.86 L567.57 292.29 L570.32 291.75 L573.07 291.23 L575.82 290.74 L578.57 290.27 L581.31 289.82 L584.06 289.39 L586.81 288.99 L589.56 288.6 L592.31 288.24 L595.06 287.91 L597.8 287.59 L600.55 287.3 L603.3 287.03 L606.05 286.78 L608.8 286.55 L611.54 286.35 L614.29 286.16 L617.04 286 L619.79 285.85 L622.54 285.73 L625.29 285.63 L628.03 285.53 L630.78 285.45 L633.53 285.39 L636.28 285.36" stroke="#e016e6"/>
<path d="M416.42 379.07 L419.17 375.88 L421.92 372.78 L424.67 369.76 L427.41 366.83 L430.16 363.97 L432.91 361.19 L435.66 358.49 L438.41 355.87 L441.16 353.31 L443.9 350.83 L446.65 348.42 L449.4 346.08 L452.15 343.8 L454.9 341.59 L457.64 339.44 L460.39 337.35 L463.14 335.33 L465.89 333.36 L468.64 331.45 L471.39 329.6 L474.13 327.8 L476.88 326.06 L479.63 324.37 L482.38 322.73 L485.13 321.14 L487.88 319.6 L490.62 318.11 L493.37 316.66 L496.12 315.26 L498.87 313.91 L501.62 312.6 L504.36 311.33 L507.11 310.1 L509.86 308.91 L512.61 307.76 L515.36 306.65 L518.11 305.58 L520.85 304.54 L523.6 303.54 L526.35 302.58 L529.1 301.65 L531.85 300.75 L534.59 299.88 L537.34 299.05 L540.09 298.25 L542.84 297.47 L545.59 296.73 L548.34 296.01 L551.08 295.33 L553.83 294.67 L556.58 294.03 L559.33 293.43 L562.08 292.85 L564.83 292.29 L567.57 291.76 L570.32 291.25 L573.07 290.76 L575.82 290.3 L578.57 289.86 L581.31 289.43 L584.06 289.04 L586.81 288.67 L589.56 288.33 L592.31 288.01 L595.06 287.71 L597.8 287.43 L600.55 287.17 L603.3 286.92 L606.05 286.7 L608.8 286.49 L611.54 286.3 L614.29 286.13 L617.04 285.98 L619.79 285.84 L622.54 285.73 L625.29 285.63 L628.03 285.53 L630.78 285.45 L633.53 285.39 L636.28 285.36" stroke="#157015"/>
<path d="M416.42 379.07 L419.17 375.91 L421.92 372.82 L424.67 369.82 L427.41 366.9 L430.16 364.06 L432.91 361.29 L435.66 358.6 L438.41 355.98 L441.16 353.43 L443.9 350.96 L446.65 348.55 L449.4 346.21 L452.15 343.93 L454.9 341.72 L457.64 339.57 L460.39 337.48 L463.14 335.45 L465.89 333.48 L468.64 331.56 L471.39 329.71 L474.13 327.9 L476.88 326.15 L479.63 324.45 L482.38 322.81 L485.13 321.21 L487.88 319.66 L490.62 318.16 L493.37 316.71 L496.12 315.3 L498.87 313.93 L501.62 312.61 L504.36 311.33 L507.11 310.1 L509.86 308.9 L512.61 307.74 L515.36 306.62 L518.11 305.54 L520.85 304.5 L523.6 303.49 L526.35 302.52 L529.1 301.58 L531.85 300.67 L534.59 299.8 L537.34 298.96 L540.09 298.15 L542.84 297.37 L545.59 296.62 L548.34 295.9 L551.08 295.21 L553.83 294.55 L556.58 293.91 L559.33 293.3 L562.08 292.72 L564.83 292.16 L567.57 291.63 L570.32 291.12 L573.07 290.63 L575.82 290.17 L578.57 289.73 L581.31 289.31 L584.06 288.91 L586.81 288.55 L589.56 288.23 L592.31 287.92 L595.06 287.63 L597.8 287.36 L600.55 287.11 L603.3 286.87 L606.05 286.66 L608.8 286.46 L611.54 286.28 L614.29 286.11 L617.04 285.97 L619.79 285.84 L622.54 285.72 L625.29 285.63 L628.03 285.53 L630.78 285.45 L633.53 285.39 L636.28 285.36" stroke="#157015"/>
</g>
<path d="M454.3 388.1 Q441.51 377.73 434.78 360.71" fill="none" stroke="#000" stroke-width="2.5"/>
<path d="M432.6 354.5 L439 361.94 L431.55 364.25 Z" fill="#000"/>
<rect x="398.1" y="270.5" width="256.5" height="189.3" fill="none" stroke="#000" stroke-width="1.3"/>
<path d="M416.42 459.8v-7 M434.74 459.8v-4 M453.06 459.8v-7 M471.39 459.8v-4 M489.71 459.8v-7 M508.03 459.8v-4 M526.35 459.8v-7 M544.67 459.8v-4 M562.99 459.8v-7 M581.31 459.8v-4 M599.64 459.8v-7 M617.96 459.8v-4 M636.28 459.8v-7 M416.42 270.5v4 M434.74 270.5v4 M453.06 270.5v4 M471.39 270.5v4 M489.71 270.5v4 M508.03 270.5v4 M526.35 270.5v4 M544.67 270.5v4 M562.99 270.5v4 M581.31 270.5v4 M599.64 270.5v4 M617.96 270.5v4 M636.28 270.5v4 M398.1 285.06h7 M654.6 285.06h-4 M398.1 299.62h4 M654.6 299.62h-4 M398.1 314.18h7 M654.6 314.18h-4 M398.1 328.75h4 M654.6 328.75h-4 M398.1 343.31h7 M654.6 343.31h-4 M398.1 357.87h4 M654.6 357.87h-4 M398.1 372.43h7 M654.6 372.43h-4 M398.1 386.99h4 M654.6 386.99h-4 M398.1 401.55h7 M654.6 401.55h-4 M398.1 416.12h4 M654.6 416.12h-4 M398.1 430.68h7 M654.6 430.68h-4 M398.1 445.24h4 M654.6 445.24h-4" stroke="#000" stroke-width="1.2" fill="none"/>
<text x="416.42" y="475.1" font-size="10" font-weight="bold" text-anchor="middle">-3.0</text>
<text x="453.06" y="475.1" font-size="10" font-weight="bold" text-anchor="middle">-2.5</text>
<text x="489.71" y="475.1" font-size="10" font-weight="bold" text-anchor="middle">-2.0</text>
<text x="526.35" y="475.1" font-size="10" font-weight="bold" text-anchor="middle">-1.5</text>
<text x="562.99" y="475.1" font-size="10" font-weight="bold" text-anchor="middle">-1.0</text>
<text x="599.64" y="475.1" font-size="10" font-weight="bold" text-anchor="middle">-0.5</text>
<text x="636.28" y="475.1" font-size="10" font-weight="bold" text-anchor="middle">0.0</text>
<text x="389.7" y="286.96" font-size="10" font-weight="bold" text-anchor="end">0.0</text>
<text x="389.7" y="318.38" font-size="10" font-weight="bold" text-anchor="end" letter-spacing="0.1">-5.0x10<tspan font-size="6.6" dy="-5.9" letter-spacing="0">-6</tspan></text>
<text x="389.7" y="347.51" font-size="10" font-weight="bold" text-anchor="end" letter-spacing="0.1">-1.0x10<tspan font-size="6.6" dy="-5.9" letter-spacing="0">-5</tspan></text>
<text x="389.7" y="376.63" font-size="10" font-weight="bold" text-anchor="end" letter-spacing="0.1">-1.5x10<tspan font-size="6.6" dy="-5.9" letter-spacing="0">-5</tspan></text>
<text x="389.7" y="405.75" font-size="10" font-weight="bold" text-anchor="end" letter-spacing="0.1">-2.0x10<tspan font-size="6.6" dy="-5.9" letter-spacing="0">-5</tspan></text>
<text x="389.7" y="434.88" font-size="10" font-weight="bold" text-anchor="end" letter-spacing="0.1">-2.5x10<tspan font-size="6.6" dy="-5.9" letter-spacing="0">-5</tspan></text>
<text x="389.7" y="464" font-size="10" font-weight="bold" text-anchor="end" letter-spacing="0.1">-3.0x10<tspan font-size="6.6" dy="-5.9" letter-spacing="0">-5</tspan></text>
<rect x="591.7" y="295.5" width="56" height="74.8" fill="#fff" stroke="#555" stroke-width="1"/>
<line x1="594.4" y1="304.5" x2="622.7" y2="304.5" stroke="#000000" stroke-width="2.2"/>
<text x="625.5" y="308.6" font-size="10.5" font-weight="bold" letter-spacing="0.35">1st</text>
<line x1="594.4" y1="319.35" x2="622.7" y2="319.35" stroke="#e61414" stroke-width="2.2"/>
<text x="625.5" y="323.45" font-size="10.5" font-weight="bold" letter-spacing="0.35">2nd</text>
<line x1="594.4" y1="334.2" x2="622.7" y2="334.2" stroke="#1010dc" stroke-width="2.2"/>
<text x="625.5" y="338.3" font-size="10.5" font-weight="bold" letter-spacing="0.35">3rd</text>
<line x1="594.4" y1="349.05" x2="622.7" y2="349.05" stroke="#e016e6" stroke-width="2.2"/>
<text x="625.5" y="353.15" font-size="10.5" font-weight="bold" letter-spacing="0.35">4th</text>
<line x1="594.4" y1="363.9" x2="622.7" y2="363.9" stroke="#157015" stroke-width="2.2"/>
<text x="625.5" y="368" font-size="10.5" font-weight="bold" letter-spacing="0.35">5th</text>
<text x="399.4" y="262.8" font-size="21.3" font-weight="bold" textLength="27.9" lengthAdjust="spacingAndGlyphs">(d)</text>
<text x="526.35" y="492.4" font-size="15" text-anchor="middle" textLength="76.2" lengthAdjust="spacingAndGlyphs">Voltage (V)</text>
<text transform="translate(345 370.2) rotate(-90)" font-size="15.5" text-anchor="middle" textLength="76.5" lengthAdjust="spacingAndGlyphs">Current (A)</text>
<text x="567.5" y="421.9" font-size="17.3" font-weight="bold" text-anchor="middle" textLength="157" lengthAdjust="spacingAndGlyphs" stroke="#fff" stroke-width="0.28">GQD concentration</text>
<text x="567.5" y="441.5" font-size="17.3" font-weight="bold" text-anchor="middle" stroke="#fff" stroke-width="0.28">15%</text>
<clipPath id="cpe"><rect x="66.3" y="515.5" width="256.8" height="189.3"/></clipPath>
<g clip-path="url(#cpe)" fill="none" stroke-width="2.4" stroke-linejoin="round" stroke-linecap="round">
<path d="M84.6 683.8 L85.6 682.04 L86.6 680.29 L87.6 678.55 L88.6 676.82 L89.6 675.11 L90.6 673.42 L91.6 671.73 L92.6 670.06 L93.6 668.4 L94.6 666.75 L95.6 665.12 L96.6 663.5 L97.6 661.89 L98.6 660.29 L99.6 658.71 L100.6 657.14 L101.6 655.58 L102.6 654.04 L103.6 652.5 L104.6 650.98 L105.6 649.47 L106.6 647.98 L107.6 646.49 L108.6 645.02 L109.6 643.56 L110.6 642.11 L111.6 640.68 L112.6 639.26 L113.6 637.84 L114.6 636.44 L115.6 635.06 L116.6 633.68 L117.6 632.31 L118.6 630.96 L119.6 629.62 L120.6 628.29 L121.6 626.97 L122.6 625.67 L123.6 624.37 L124.6 623.09 L125.6 621.81 L126.6 620.55 L127.6 619.3 L128.6 618.06 L129.6 616.83 L130.6 615.62 L131.6 614.41 L132.6 613.22 L133.6 612.03 L134.6 610.86 L135.6 609.7 L136.6 608.55 L137.6 607.41 L138.6 606.28 L139.6 605.16 L140.6 604.05 L141.6 602.95 L142.6 601.86 L143.6 600.78 L144.6 599.72 L145.6 598.66 L146.6 597.61 L147.6 596.58 L148.6 595.55 L149.6 594.54 L150.6 593.53 L151.6 592.54 L152.6 591.55 L153.6 590.57 L154.6 589.61 L155.6 588.65 L156.6 587.71 L157.6 586.77 L158.6 585.84 L159.6 584.93 L160.6 584.02 L161.6 583.12 L162.6 582.23 L163.6 581.35 L164.6 580.48 L165.6 579.62 L166.6 578.77 L167.6 577.93 L168.6 577.1 L169.6 576.28 L170.6 575.46 L171.6 574.66 L172.6 573.86 L173.6 573.07 L174.6 572.29 L175.6 571.52 L176.6 570.76 L177.6 570.01 L178.6 569.27 L179.6 568.53 L180.6 567.81 L181.6 567.09 L182.6 566.38 L183.6 565.68 L184.6 564.99 L185.6 564.31 L186.6 563.63 L187.6 562.96 L188.6 562.3 L189.6 561.65 L190.6 561.01 L191.6 560.38 L192.6 559.75 L193.6 559.13 L194.6 558.52 L195.6 557.92 L196.6 557.32 L197.6 556.73 L198.6 556.15 L199.6 555.58 L200.6 555.02 L201.6 554.46 L202.6 553.91 L203.6 553.37 L204.6 552.84 L205.6 552.31 L206.6 551.79 L207.6 551.28 L208.6 550.77 L209.6 550.27 L210.6 549.78 L211.6 549.3 L212.6 548.82 L213.6 548.35 L214.6 547.88 L215.6 547.43 L216.6 546.98 L217.6 546.54 L218.6 546.1 L219.6 545.67 L220.6 545.25 L221.6 544.83 L222.6 544.42 L223.6 544.02 L224.6 543.62 L225.6 543.23 L226.6 542.84 L227.6 542.46 L228.6 542.09 L229.6 541.73 L230.6 541.37 L231.6 541.01 L232.6 540.66 L233.6 540.32 L234.6 539.99 L235.6 539.66 L236.6 539.33 L237.6 539.01 L238.6 538.7 L239.6 538.39 L240.6 538.09 L241.6 537.79 L242.6 537.5 L243.6 537.22 L244.6 536.94 L245.6 536.66 L246.6 536.39 L247.6 536.13 L248.6 535.87 L249.6 535.61 L250.6 535.36 L251.6 535.12 L252.6 534.88 L253.6 534.65 L254.6 534.42 L255.6 534.19 L256.6 533.97 L257.6 533.76 L258.6 533.55 L259.6 533.34 L260.6 533.14 L261.6 532.94 L262.6 532.75 L263.6 532.56 L264.6 532.38 L265.6 532.2 L266.6 532.02 L267.6 531.85 L268.6 531.69 L269.6 531.52 L270.6 531.37 L271.6 531.21 L272.6 531.06 L273.6 530.91 L274.6 530.77 L275.6 530.63 L276.6 530.5 L277.6 530.36 L278.6 530.24 L279.6 530.11 L280.6 529.99 L281.6 529.87 L282.6 529.76 L283.6 529.65 L284.6 529.54 L285.6 529.44 L286.6 529.33 L287.6 529.24 L288.6 529.14 L289.6 529.05 L290.6 528.96 L291.6 528.87 L292.6 528.79 L293.6 528.71 L294.6 528.63 L295.6 528.56 L296.6 528.49 L297.6 528.42 L298.6 528.35 L299.6 528.29 L300.6 528.23 L301.6 528.17 L302.6 528.11 L303.6 528.06 L304.6 528 L304.8 527.99" stroke="#000000"/>
<path d="M84.6 683.8 L85.6 682.05 L86.6 680.31 L87.6 678.59 L88.6 676.88 L89.6 675.18 L90.6 673.49 L91.6 671.82 L92.6 670.16 L93.6 668.51 L94.6 666.88 L95.6 665.26 L96.6 663.65 L97.6 662.06 L98.6 660.47 L99.6 658.9 L100.6 657.34 L101.6 655.8 L102.6 654.27 L103.6 652.74 L104.6 651.24 L105.6 649.74 L106.6 648.26 L107.6 646.78 L108.6 645.32 L109.6 643.88 L110.6 642.44 L111.6 641.02 L112.6 639.61 L113.6 638.21 L114.6 636.82 L115.6 635.44 L116.6 634.08 L117.6 632.72 L118.6 631.38 L119.6 630.05 L120.6 628.73 L121.6 627.43 L122.6 626.13 L123.6 624.85 L124.6 623.57 L125.6 622.31 L126.6 621.06 L127.6 619.82 L128.6 618.59 L129.6 617.37 L130.6 616.17 L131.6 614.97 L132.6 613.79 L133.6 612.61 L134.6 611.45 L135.6 610.3 L136.6 609.15 L137.6 608.02 L138.6 606.9 L139.6 605.79 L140.6 604.69 L141.6 603.6 L142.6 602.52 L143.6 601.46 L144.6 600.4 L145.6 599.35 L146.6 598.31 L147.6 597.28 L148.6 596.26 L149.6 595.26 L150.6 594.26 L151.6 593.27 L152.6 592.29 L153.6 591.32 L154.6 590.37 L155.6 589.42 L156.6 588.48 L157.6 587.55 L158.6 586.63 L159.6 585.72 L160.6 584.81 L161.6 583.92 L162.6 583.04 L163.6 582.17 L164.6 581.3 L165.6 580.45 L166.6 579.6 L167.6 578.76 L168.6 577.94 L169.6 577.12 L170.6 576.31 L171.6 575.51 L172.6 574.72 L173.6 573.93 L174.6 573.16 L175.6 572.39 L176.6 571.63 L177.6 570.89 L178.6 570.15 L179.6 569.41 L180.6 568.69 L181.6 567.98 L182.6 567.27 L183.6 566.57 L184.6 565.88 L185.6 565.2 L186.6 564.52 L187.6 563.86 L188.6 563.2 L189.6 562.55 L190.6 561.91 L191.6 561.28 L192.6 560.65 L193.6 560.03 L194.6 559.42 L195.6 558.82 L196.6 558.22 L197.6 557.63 L198.6 557.05 L199.6 556.48 L200.6 555.91 L201.6 555.36 L202.6 554.81 L203.6 554.26 L204.6 553.73 L205.6 553.2 L206.6 552.67 L207.6 552.16 L208.6 551.65 L209.6 551.15 L210.6 550.66 L211.6 550.17 L212.6 549.69 L213.6 549.22 L214.6 548.75 L215.6 548.29 L216.6 547.83 L217.6 547.39 L218.6 546.95 L219.6 546.51 L220.6 546.09 L221.6 545.66 L222.6 545.25 L223.6 544.84 L224.6 544.44 L225.6 544.04 L226.6 543.65 L227.6 543.27 L228.6 542.89 L229.6 542.52 L230.6 542.15 L231.6 541.79 L232.6 541.44 L233.6 541.09 L234.6 540.74 L235.6 540.41 L236.6 540.07 L237.6 539.75 L238.6 539.43 L239.6 539.11 L240.6 538.8 L241.6 538.5 L242.6 538.2 L243.6 537.91 L244.6 537.62 L245.6 537.33 L246.6 537.06 L247.6 536.78 L248.6 536.51 L249.6 536.25 L250.6 535.99 L251.6 535.74 L252.6 535.49 L253.6 535.25 L254.6 535.01 L255.6 534.77 L256.6 534.54 L257.6 534.32 L258.6 534.1 L259.6 533.88 L260.6 533.67 L261.6 533.46 L262.6 533.26 L263.6 533.06 L264.6 532.87 L265.6 532.68 L266.6 532.49 L267.6 532.31 L268.6 532.13 L269.6 531.96 L270.6 531.79 L271.6 531.62 L272.6 531.46 L273.6 531.3 L274.6 531.15 L275.6 531 L276.6 530.85 L277.6 530.7 L278.6 530.56 L279.6 530.43 L280.6 530.29 L281.6 530.16 L282.6 530.04 L283.6 529.92 L284.6 529.8 L285.6 529.68 L286.6 529.57 L287.6 529.45 L288.6 529.35 L289.6 529.24 L290.6 529.14 L291.6 529.04 L292.6 528.95 L293.6 528.86 L294.6 528.77 L295.6 528.68 L296.6 528.59 L297.6 528.51 L298.6 528.43 L299.6 528.36 L300.6 528.28 L301.6 528.21 L302.6 528.14 L303.6 528.07 L304.6 528.01 L304.8 527.99" stroke="#000000"/>
<path d="M84.6 670.8 L85.6 669.29 L86.6 667.78 L87.6 666.29 L88.6 664.8 L89.6 663.33 L90.6 661.86 L91.6 660.41 L92.6 658.96 L93.6 657.53 L94.6 656.1 L95.6 654.69 L96.6 653.28 L97.6 651.89 L98.6 650.5 L99.6 649.12 L100.6 647.76 L101.6 646.4 L102.6 645.05 L103.6 643.71 L104.6 642.39 L105.6 641.07 L106.6 639.76 L107.6 638.46 L108.6 637.17 L109.6 635.89 L110.6 634.61 L111.6 633.35 L112.6 632.1 L113.6 630.85 L114.6 629.62 L115.6 628.39 L116.6 627.18 L117.6 625.97 L118.6 624.77 L119.6 623.58 L120.6 622.4 L121.6 621.23 L122.6 620.07 L123.6 618.91 L124.6 617.77 L125.6 616.63 L126.6 615.51 L127.6 614.39 L128.6 613.28 L129.6 612.18 L130.6 611.09 L131.6 610.01 L132.6 608.93 L133.6 607.87 L134.6 606.81 L135.6 605.76 L136.6 604.73 L137.6 603.69 L138.6 602.67 L139.6 601.66 L140.6 600.65 L141.6 599.66 L142.6 598.67 L143.6 597.69 L144.6 596.72 L145.6 595.75 L146.6 594.8 L147.6 593.85 L148.6 592.91 L149.6 591.98 L150.6 591.06 L151.6 590.15 L152.6 589.24 L153.6 588.34 L154.6 587.45 L155.6 586.57 L156.6 585.7 L157.6 584.83 L158.6 583.98 L159.6 583.13 L160.6 582.29 L161.6 581.45 L162.6 580.62 L163.6 579.81 L164.6 579 L165.6 578.19 L166.6 577.4 L167.6 576.61 L168.6 575.83 L169.6 575.06 L170.6 574.29 L171.6 573.54 L172.6 572.79 L173.6 572.04 L174.6 571.31 L175.6 570.58 L176.6 569.86 L177.6 569.15 L178.6 568.45 L179.6 567.75 L180.6 567.06 L181.6 566.37 L182.6 565.7 L183.6 565.03 L184.6 564.37 L185.6 563.71 L186.6 563.07 L187.6 562.43 L188.6 561.79 L189.6 561.17 L190.6 560.55 L191.6 559.94 L192.6 559.33 L193.6 558.73 L194.6 558.14 L195.6 557.56 L196.6 556.98 L197.6 556.41 L198.6 555.84 L199.6 555.29 L200.6 554.73 L201.6 554.19 L202.6 553.65 L203.6 553.12 L204.6 552.6 L205.6 552.08 L206.6 551.57 L207.6 551.06 L208.6 550.56 L209.6 550.07 L210.6 549.59 L211.6 549.11 L212.6 548.63 L213.6 548.17 L214.6 547.71 L215.6 547.25 L216.6 546.8 L217.6 546.36 L218.6 545.93 L219.6 545.5 L220.6 545.07 L221.6 544.65 L222.6 544.24 L223.6 543.84 L224.6 543.44 L225.6 543.04 L226.6 542.66 L227.6 542.27 L228.6 541.9 L229.6 541.53 L230.6 541.16 L231.6 540.8 L232.6 540.45 L233.6 540.1 L234.6 539.76 L235.6 539.43 L236.6 539.1 L237.6 538.77 L238.6 538.45 L239.6 538.14 L240.6 537.83 L241.6 537.52 L242.6 537.23 L243.6 536.93 L244.6 536.65 L245.6 536.37 L246.6 536.09 L247.6 535.82 L248.6 535.55 L249.6 535.29 L250.6 535.04 L251.6 534.78 L252.6 534.54 L253.6 534.3 L254.6 534.06 L255.6 533.83 L256.6 533.61 L257.6 533.39 L258.6 533.17 L259.6 532.96 L260.6 532.75 L261.6 532.55 L262.6 532.36 L263.6 532.17 L264.6 531.98 L265.6 531.8 L266.6 531.62 L267.6 531.45 L268.6 531.28 L269.6 531.11 L270.6 530.95 L271.6 530.8 L272.6 530.65 L273.6 530.5 L274.6 530.36 L275.6 530.22 L276.6 530.09 L277.6 529.96 L278.6 529.84 L279.6 529.72 L280.6 529.6 L281.6 529.49 L282.6 529.38 L283.6 529.28 L284.6 529.18 L285.6 529.09 L286.6 528.99 L287.6 528.91 L288.6 528.82 L289.6 528.74 L290.6 528.67 L291.6 528.6 L292.6 528.53 L293.6 528.47 L294.6 528.4 L295.6 528.35 L296.6 528.3 L297.6 528.25 L298.6 528.2 L299.6 528.16 L300.6 528.12 L301.6 528.09 L302.6 528.05 L303.6 528.03 L304.6 528 L304.8 528" stroke="#e61414"/>
<path d="M84.6 670.8 L85.6 669.3 L86.6 667.81 L87.6 666.33 L88.6 664.85 L89.6 663.39 L90.6 661.94 L91.6 660.5 L92.6 659.07 L93.6 657.64 L94.6 656.23 L95.6 654.83 L96.6 653.44 L97.6 652.05 L98.6 650.68 L99.6 649.32 L100.6 647.96 L101.6 646.62 L102.6 645.28 L103.6 643.96 L104.6 642.64 L105.6 641.33 L106.6 640.04 L107.6 638.75 L108.6 637.47 L109.6 636.2 L110.6 634.94 L111.6 633.69 L112.6 632.45 L113.6 631.21 L114.6 629.99 L115.6 628.78 L116.6 627.57 L117.6 626.38 L118.6 625.19 L119.6 624.01 L120.6 622.84 L121.6 621.68 L122.6 620.53 L123.6 619.39 L124.6 618.26 L125.6 617.13 L126.6 616.02 L127.6 614.91 L128.6 613.81 L129.6 612.72 L130.6 611.64 L131.6 610.57 L132.6 609.5 L133.6 608.45 L134.6 607.4 L135.6 606.36 L136.6 605.33 L137.6 604.31 L138.6 603.3 L139.6 602.29 L140.6 601.3 L141.6 600.31 L142.6 599.33 L143.6 598.36 L144.6 597.4 L145.6 596.44 L146.6 595.5 L147.6 594.56 L148.6 593.63 L149.6 592.7 L150.6 591.79 L151.6 590.88 L152.6 589.98 L153.6 589.09 L154.6 588.21 L155.6 587.34 L156.6 586.47 L157.6 585.61 L158.6 584.76 L159.6 583.92 L160.6 583.08 L161.6 582.25 L162.6 581.43 L163.6 580.62 L164.6 579.81 L165.6 579.02 L166.6 578.23 L167.6 577.44 L168.6 576.67 L169.6 575.9 L170.6 575.14 L171.6 574.39 L172.6 573.64 L173.6 572.9 L174.6 572.17 L175.6 571.45 L176.6 570.73 L177.6 570.02 L178.6 569.32 L179.6 568.63 L180.6 567.94 L181.6 567.26 L182.6 566.59 L183.6 565.92 L184.6 565.26 L185.6 564.61 L186.6 563.96 L187.6 563.32 L188.6 562.69 L189.6 562.06 L190.6 561.45 L191.6 560.84 L192.6 560.23 L193.6 559.63 L194.6 559.04 L195.6 558.46 L196.6 557.88 L197.6 557.31 L198.6 556.74 L199.6 556.18 L200.6 555.63 L201.6 555.09 L202.6 554.55 L203.6 554.01 L204.6 553.49 L205.6 552.97 L206.6 552.45 L207.6 551.95 L208.6 551.45 L209.6 550.95 L210.6 550.46 L211.6 549.98 L212.6 549.5 L213.6 549.03 L214.6 548.57 L215.6 548.11 L216.6 547.66 L217.6 547.21 L218.6 546.77 L219.6 546.34 L220.6 545.91 L221.6 545.49 L222.6 545.07 L223.6 544.66 L224.6 544.26 L225.6 543.86 L226.6 543.46 L227.6 543.08 L228.6 542.69 L229.6 542.32 L230.6 541.95 L231.6 541.58 L232.6 541.22 L233.6 540.87 L234.6 540.52 L235.6 540.18 L236.6 539.84 L237.6 539.51 L238.6 539.18 L239.6 538.86 L240.6 538.54 L241.6 538.23 L242.6 537.93 L243.6 537.62 L244.6 537.33 L245.6 537.04 L246.6 536.75 L247.6 536.47 L248.6 536.2 L249.6 535.93 L250.6 535.66 L251.6 535.4 L252.6 535.15 L253.6 534.9 L254.6 534.65 L255.6 534.41 L256.6 534.18 L257.6 533.95 L258.6 533.72 L259.6 533.5 L260.6 533.29 L261.6 533.07 L262.6 532.87 L263.6 532.66 L264.6 532.47 L265.6 532.27 L266.6 532.09 L267.6 531.9 L268.6 531.72 L269.6 531.55 L270.6 531.38 L271.6 531.21 L272.6 531.05 L273.6 530.89 L274.6 530.74 L275.6 530.59 L276.6 530.44 L277.6 530.3 L278.6 530.17 L279.6 530.03 L280.6 529.91 L281.6 529.78 L282.6 529.66 L283.6 529.55 L284.6 529.44 L285.6 529.33 L286.6 529.23 L287.6 529.13 L288.6 529.03 L289.6 528.94 L290.6 528.85 L291.6 528.77 L292.6 528.68 L293.6 528.61 L294.6 528.54 L295.6 528.47 L296.6 528.4 L297.6 528.34 L298.6 528.28 L299.6 528.23 L300.6 528.17 L301.6 528.13 L302.6 528.08 L303.6 528.04 L304.6 528.01 L304.8 528" stroke="#e61414"/>
<path d="M84.6 663 L85.6 661.62 L86.6 660.24 L87.6 658.88 L88.6 657.52 L89.6 656.17 L90.6 654.83 L91.6 653.49 L92.6 652.17 L93.6 650.85 L94.6 649.54 L95.6 648.24 L96.6 646.95 L97.6 645.67 L98.6 644.39 L99.6 643.12 L100.6 641.86 L101.6 640.61 L102.6 639.37 L103.6 638.14 L104.6 636.91 L105.6 635.69 L106.6 634.48 L107.6 633.28 L108.6 632.09 L109.6 630.9 L110.6 629.72 L111.6 628.55 L112.6 627.39 L113.6 626.24 L114.6 625.09 L115.6 623.95 L116.6 622.82 L117.6 621.7 L118.6 620.58 L119.6 619.48 L120.6 618.38 L121.6 617.29 L122.6 616.2 L123.6 615.13 L124.6 614.06 L125.6 613 L126.6 611.95 L127.6 610.9 L128.6 609.87 L129.6 608.84 L130.6 607.81 L131.6 606.8 L132.6 605.79 L133.6 604.79 L134.6 603.8 L135.6 602.82 L136.6 601.84 L137.6 600.87 L138.6 599.91 L139.6 598.96 L140.6 598.01 L141.6 597.07 L142.6 596.14 L143.6 595.21 L144.6 594.3 L145.6 593.39 L146.6 592.48 L147.6 591.59 L148.6 590.7 L149.6 589.82 L150.6 588.94 L151.6 588.08 L152.6 587.22 L153.6 586.37 L154.6 585.52 L155.6 584.68 L156.6 583.85 L157.6 583.03 L158.6 582.21 L159.6 581.4 L160.6 580.6 L161.6 579.81 L162.6 579.02 L163.6 578.24 L164.6 577.46 L165.6 576.69 L166.6 575.93 L167.6 575.18 L168.6 574.43 L169.6 573.69 L170.6 572.96 L171.6 572.23 L172.6 571.51 L173.6 570.8 L174.6 570.09 L175.6 569.39 L176.6 568.7 L177.6 568.01 L178.6 567.34 L179.6 566.66 L180.6 566 L181.6 565.34 L182.6 564.68 L183.6 564.04 L184.6 563.4 L185.6 562.76 L186.6 562.14 L187.6 561.52 L188.6 560.9 L189.6 560.3 L190.6 559.7 L191.6 559.1 L192.6 558.51 L193.6 557.93 L194.6 557.36 L195.6 556.79 L196.6 556.22 L197.6 555.67 L198.6 555.12 L199.6 554.57 L200.6 554.03 L201.6 553.5 L202.6 552.98 L203.6 552.46 L204.6 551.95 L205.6 551.44 L206.6 550.94 L207.6 550.44 L208.6 549.95 L209.6 549.47 L210.6 548.99 L211.6 548.52 L212.6 548.06 L213.6 547.6 L214.6 547.15 L215.6 546.7 L216.6 546.26 L217.6 545.82 L218.6 545.39 L219.6 544.97 L220.6 544.55 L221.6 544.14 L222.6 543.73 L223.6 543.33 L224.6 542.94 L225.6 542.55 L226.6 542.17 L227.6 541.79 L228.6 541.42 L229.6 541.05 L230.6 540.69 L231.6 540.33 L232.6 539.98 L233.6 539.64 L234.6 539.3 L235.6 538.97 L236.6 538.64 L237.6 538.32 L238.6 538 L239.6 537.69 L240.6 537.38 L241.6 537.08 L242.6 536.79 L243.6 536.5 L244.6 536.21 L245.6 535.93 L246.6 535.66 L247.6 535.39 L248.6 535.13 L249.6 534.87 L250.6 534.61 L251.6 534.36 L252.6 534.12 L253.6 533.88 L254.6 533.65 L255.6 533.42 L256.6 533.2 L257.6 532.98 L258.6 532.77 L259.6 532.56 L260.6 532.36 L261.6 532.16 L262.6 531.97 L263.6 531.78 L264.6 531.6 L265.6 531.42 L266.6 531.24 L267.6 531.07 L268.6 530.91 L269.6 530.75 L270.6 530.6 L271.6 530.45 L272.6 530.3 L273.6 530.16 L274.6 530.02 L275.6 529.89 L276.6 529.77 L277.6 529.64 L278.6 529.53 L279.6 529.41 L280.6 529.3 L281.6 529.2 L282.6 529.1 L283.6 529.01 L284.6 528.92 L285.6 528.83 L286.6 528.75 L287.6 528.67 L288.6 528.6 L289.6 528.53 L290.6 528.46 L291.6 528.4 L292.6 528.35 L293.6 528.3 L294.6 528.25 L295.6 528.21 L296.6 528.17 L297.6 528.13 L298.6 528.1 L299.6 528.07 L300.6 528.05 L301.6 528.03 L302.6 528.02 L303.6 528.01 L304.6 528 L304.8 528" stroke="#1010dc"/>
<path d="M84.6 663 L85.6 661.63 L86.6 660.27 L87.6 658.91 L88.6 657.57 L89.6 656.23 L90.6 654.9 L91.6 653.58 L92.6 652.27 L93.6 650.97 L94.6 649.67 L95.6 648.38 L96.6 647.1 L97.6 645.83 L98.6 644.57 L99.6 643.31 L100.6 642.07 L101.6 640.83 L102.6 639.6 L103.6 638.38 L104.6 637.16 L105.6 635.96 L106.6 634.76 L107.6 633.57 L108.6 632.39 L109.6 631.21 L110.6 630.05 L111.6 628.89 L112.6 627.74 L113.6 626.6 L114.6 625.46 L115.6 624.34 L116.6 623.22 L117.6 622.11 L118.6 621 L119.6 619.91 L120.6 618.82 L121.6 617.74 L122.6 616.67 L123.6 615.6 L124.6 614.55 L125.6 613.5 L126.6 612.45 L127.6 611.42 L128.6 610.39 L129.6 609.37 L130.6 608.36 L131.6 607.36 L132.6 606.36 L133.6 605.37 L134.6 604.39 L135.6 603.42 L136.6 602.45 L137.6 601.49 L138.6 600.54 L139.6 599.59 L140.6 598.65 L141.6 597.72 L142.6 596.8 L143.6 595.88 L144.6 594.98 L145.6 594.07 L146.6 593.18 L147.6 592.29 L148.6 591.41 L149.6 590.54 L150.6 589.67 L151.6 588.81 L152.6 587.96 L153.6 587.12 L154.6 586.28 L155.6 585.45 L156.6 584.62 L157.6 583.81 L158.6 583 L159.6 582.19 L160.6 581.4 L161.6 580.61 L162.6 579.82 L163.6 579.05 L164.6 578.28 L165.6 577.52 L166.6 576.76 L167.6 576.01 L168.6 575.27 L169.6 574.53 L170.6 573.81 L171.6 573.08 L172.6 572.37 L173.6 571.66 L174.6 570.96 L175.6 570.26 L176.6 569.57 L177.6 568.89 L178.6 568.21 L179.6 567.54 L180.6 566.88 L181.6 566.22 L182.6 565.57 L183.6 564.93 L184.6 564.29 L185.6 563.66 L186.6 563.03 L187.6 562.41 L188.6 561.8 L189.6 561.19 L190.6 560.59 L191.6 560 L192.6 559.41 L193.6 558.83 L194.6 558.26 L195.6 557.69 L196.6 557.12 L197.6 556.57 L198.6 556.02 L199.6 555.47 L200.6 554.93 L201.6 554.4 L202.6 553.87 L203.6 553.35 L204.6 552.84 L205.6 552.33 L206.6 551.82 L207.6 551.33 L208.6 550.84 L209.6 550.35 L210.6 549.87 L211.6 549.4 L212.6 548.93 L213.6 548.47 L214.6 548.01 L215.6 547.56 L216.6 547.12 L217.6 546.68 L218.6 546.24 L219.6 545.81 L220.6 545.39 L221.6 544.98 L222.6 544.56 L223.6 544.16 L224.6 543.76 L225.6 543.36 L226.6 542.98 L227.6 542.59 L228.6 542.21 L229.6 541.84 L230.6 541.47 L231.6 541.11 L232.6 540.76 L233.6 540.4 L234.6 540.06 L235.6 539.72 L236.6 539.38 L237.6 539.05 L238.6 538.73 L239.6 538.41 L240.6 538.1 L241.6 537.79 L242.6 537.49 L243.6 537.19 L244.6 536.89 L245.6 536.61 L246.6 536.32 L247.6 536.04 L248.6 535.77 L249.6 535.5 L250.6 535.24 L251.6 534.98 L252.6 534.73 L253.6 534.48 L254.6 534.24 L255.6 534 L256.6 533.77 L257.6 533.54 L258.6 533.32 L259.6 533.1 L260.6 532.89 L261.6 532.68 L262.6 532.48 L263.6 532.28 L264.6 532.08 L265.6 531.89 L266.6 531.71 L267.6 531.53 L268.6 531.35 L269.6 531.18 L270.6 531.02 L271.6 530.86 L272.6 530.7 L273.6 530.55 L274.6 530.4 L275.6 530.26 L276.6 530.12 L277.6 529.98 L278.6 529.85 L279.6 529.73 L280.6 529.61 L281.6 529.49 L282.6 529.38 L283.6 529.27 L284.6 529.17 L285.6 529.07 L286.6 528.98 L287.6 528.89 L288.6 528.8 L289.6 528.72 L290.6 528.64 L291.6 528.57 L292.6 528.5 L293.6 528.44 L294.6 528.38 L295.6 528.32 L296.6 528.27 L297.6 528.22 L298.6 528.18 L299.6 528.14 L300.6 528.1 L301.6 528.07 L302.6 528.05 L303.6 528.02 L304.6 528 L304.8 528" stroke="#1010dc"/>
<path d="M84.6 657.7 L85.6 656.39 L86.6 655.08 L87.6 653.78 L88.6 652.48 L89.6 651.2 L90.6 649.92 L91.6 648.65 L92.6 647.39 L93.6 646.13 L94.6 644.89 L95.6 643.65 L96.6 642.42 L97.6 641.19 L98.6 639.98 L99.6 638.77 L100.6 637.57 L101.6 636.37 L102.6 635.19 L103.6 634.01 L104.6 632.84 L105.6 631.68 L106.6 630.52 L107.6 629.37 L108.6 628.23 L109.6 627.1 L110.6 625.97 L111.6 624.85 L112.6 623.74 L113.6 622.64 L114.6 621.54 L115.6 620.46 L116.6 619.37 L117.6 618.3 L118.6 617.23 L119.6 616.17 L120.6 615.12 L121.6 614.08 L122.6 613.04 L123.6 612.01 L124.6 610.99 L125.6 609.97 L126.6 608.96 L127.6 607.96 L128.6 606.97 L129.6 605.98 L130.6 605 L131.6 604.03 L132.6 603.06 L133.6 602.1 L134.6 601.15 L135.6 600.21 L136.6 599.27 L137.6 598.34 L138.6 597.42 L139.6 596.5 L140.6 595.59 L141.6 594.69 L142.6 593.79 L143.6 592.9 L144.6 592.02 L145.6 591.15 L146.6 590.28 L147.6 589.42 L148.6 588.56 L149.6 587.72 L150.6 586.87 L151.6 586.04 L152.6 585.21 L153.6 584.39 L154.6 583.58 L155.6 582.77 L156.6 581.97 L157.6 581.18 L158.6 580.39 L159.6 579.61 L160.6 578.84 L161.6 578.07 L162.6 577.31 L163.6 576.56 L164.6 575.81 L165.6 575.07 L166.6 574.34 L167.6 573.61 L168.6 572.89 L169.6 572.17 L170.6 571.46 L171.6 570.76 L172.6 570.07 L173.6 569.38 L174.6 568.7 L175.6 568.02 L176.6 567.35 L177.6 566.69 L178.6 566.03 L179.6 565.38 L180.6 564.74 L181.6 564.1 L182.6 563.47 L183.6 562.84 L184.6 562.22 L185.6 561.61 L186.6 561 L187.6 560.4 L188.6 559.81 L189.6 559.22 L190.6 558.64 L191.6 558.06 L192.6 557.49 L193.6 556.93 L194.6 556.37 L195.6 555.82 L196.6 555.27 L197.6 554.73 L198.6 554.2 L199.6 553.67 L200.6 553.15 L201.6 552.63 L202.6 552.12 L203.6 551.62 L204.6 551.12 L205.6 550.63 L206.6 550.14 L207.6 549.66 L208.6 549.18 L209.6 548.72 L210.6 548.25 L211.6 547.8 L212.6 547.34 L213.6 546.9 L214.6 546.46 L215.6 546.02 L216.6 545.59 L217.6 545.17 L218.6 544.75 L219.6 544.34 L220.6 543.94 L221.6 543.53 L222.6 543.14 L223.6 542.75 L224.6 542.37 L225.6 541.99 L226.6 541.61 L227.6 541.25 L228.6 540.89 L229.6 540.53 L230.6 540.18 L231.6 539.83 L232.6 539.49 L233.6 539.16 L234.6 538.83 L235.6 538.5 L236.6 538.18 L237.6 537.87 L238.6 537.56 L239.6 537.26 L240.6 536.96 L241.6 536.67 L242.6 536.38 L243.6 536.1 L244.6 535.82 L245.6 535.55 L246.6 535.28 L247.6 535.02 L248.6 534.77 L249.6 534.52 L250.6 534.27 L251.6 534.03 L252.6 533.79 L253.6 533.56 L254.6 533.33 L255.6 533.11 L256.6 532.9 L257.6 532.69 L258.6 532.48 L259.6 532.28 L260.6 532.08 L261.6 531.89 L262.6 531.7 L263.6 531.52 L264.6 531.34 L265.6 531.17 L266.6 531 L267.6 530.84 L268.6 530.68 L269.6 530.53 L270.6 530.38 L271.6 530.24 L272.6 530.1 L273.6 529.96 L274.6 529.83 L275.6 529.71 L276.6 529.59 L277.6 529.47 L278.6 529.36 L279.6 529.25 L280.6 529.15 L281.6 529.05 L282.6 528.96 L283.6 528.87 L284.6 528.79 L285.6 528.71 L286.6 528.63 L287.6 528.56 L288.6 528.49 L289.6 528.43 L290.6 528.37 L291.6 528.32 L292.6 528.27 L293.6 528.22 L294.6 528.18 L295.6 528.14 L296.6 528.11 L297.6 528.08 L298.6 528.06 L299.6 528.04 L300.6 528.02 L301.6 528.01 L302.6 528 L303.6 528 L304.6 528 L304.8 528" stroke="#e016e6"/>
<path d="M84.6 657.7 L85.6 656.4 L86.6 655.1 L87.6 653.81 L88.6 652.53 L89.6 651.26 L90.6 650 L91.6 648.74 L92.6 647.49 L93.6 646.25 L94.6 645.01 L95.6 643.79 L96.6 642.57 L97.6 641.36 L98.6 640.15 L99.6 638.96 L100.6 637.77 L101.6 636.59 L102.6 635.42 L103.6 634.25 L104.6 633.09 L105.6 631.94 L106.6 630.8 L107.6 629.66 L108.6 628.53 L109.6 627.41 L110.6 626.3 L111.6 625.19 L112.6 624.09 L113.6 623 L114.6 621.92 L115.6 620.84 L116.6 619.77 L117.6 618.71 L118.6 617.65 L119.6 616.61 L120.6 615.57 L121.6 614.53 L122.6 613.51 L123.6 612.49 L124.6 611.47 L125.6 610.47 L126.6 609.47 L127.6 608.48 L128.6 607.5 L129.6 606.52 L130.6 605.55 L131.6 604.59 L132.6 603.63 L133.6 602.68 L134.6 601.74 L135.6 600.81 L136.6 599.88 L137.6 598.96 L138.6 598.04 L139.6 597.14 L140.6 596.24 L141.6 595.34 L142.6 594.45 L143.6 593.57 L144.6 592.7 L145.6 591.83 L146.6 590.97 L147.6 590.12 L148.6 589.28 L149.6 588.44 L150.6 587.6 L151.6 586.78 L152.6 585.96 L153.6 585.14 L154.6 584.34 L155.6 583.54 L156.6 582.74 L157.6 581.96 L158.6 581.18 L159.6 580.4 L160.6 579.63 L161.6 578.87 L162.6 578.12 L163.6 577.37 L164.6 576.63 L165.6 575.89 L166.6 575.16 L167.6 574.44 L168.6 573.72 L169.6 573.01 L170.6 572.31 L171.6 571.61 L172.6 570.92 L173.6 570.24 L174.6 569.56 L175.6 568.89 L176.6 568.22 L177.6 567.56 L178.6 566.91 L179.6 566.26 L180.6 565.62 L181.6 564.98 L182.6 564.35 L183.6 563.73 L184.6 563.11 L185.6 562.5 L186.6 561.89 L187.6 561.3 L188.6 560.7 L189.6 560.11 L190.6 559.53 L191.6 558.96 L192.6 558.39 L193.6 557.83 L194.6 557.27 L195.6 556.72 L196.6 556.17 L197.6 555.63 L198.6 555.09 L199.6 554.57 L200.6 554.04 L201.6 553.53 L202.6 553.02 L203.6 552.51 L204.6 552.01 L205.6 551.52 L206.6 551.03 L207.6 550.54 L208.6 550.07 L209.6 549.6 L210.6 549.13 L211.6 548.67 L212.6 548.21 L213.6 547.77 L214.6 547.32 L215.6 546.88 L216.6 546.45 L217.6 546.02 L218.6 545.6 L219.6 545.19 L220.6 544.77 L221.6 544.37 L222.6 543.97 L223.6 543.57 L224.6 543.19 L225.6 542.8 L226.6 542.42 L227.6 542.05 L228.6 541.68 L229.6 541.32 L230.6 540.96 L231.6 540.61 L232.6 540.26 L233.6 539.92 L234.6 539.59 L235.6 539.25 L236.6 538.93 L237.6 538.61 L238.6 538.29 L239.6 537.98 L240.6 537.68 L241.6 537.37 L242.6 537.08 L243.6 536.79 L244.6 536.5 L245.6 536.22 L246.6 535.95 L247.6 535.68 L248.6 535.41 L249.6 535.15 L250.6 534.9 L251.6 534.65 L252.6 534.4 L253.6 534.16 L254.6 533.93 L255.6 533.69 L256.6 533.47 L257.6 533.25 L258.6 533.03 L259.6 532.82 L260.6 532.61 L261.6 532.41 L262.6 532.21 L263.6 532.02 L264.6 531.83 L265.6 531.65 L266.6 531.47 L267.6 531.3 L268.6 531.13 L269.6 530.96 L270.6 530.8 L271.6 530.65 L272.6 530.5 L273.6 530.35 L274.6 530.21 L275.6 530.07 L276.6 529.94 L277.6 529.81 L278.6 529.69 L279.6 529.57 L280.6 529.46 L281.6 529.35 L282.6 529.24 L283.6 529.14 L284.6 529.04 L285.6 528.95 L286.6 528.86 L287.6 528.78 L288.6 528.7 L289.6 528.62 L290.6 528.55 L291.6 528.48 L292.6 528.42 L293.6 528.36 L294.6 528.31 L295.6 528.26 L296.6 528.22 L297.6 528.17 L298.6 528.14 L299.6 528.1 L300.6 528.08 L301.6 528.05 L302.6 528.03 L303.6 528.01 L304.6 528 L304.8 528" stroke="#e016e6"/>
<path d="M84.6 652.5 L85.6 651.22 L86.6 649.95 L87.6 648.68 L88.6 647.43 L89.6 646.18 L90.6 644.93 L91.6 643.7 L92.6 642.47 L93.6 641.26 L94.6 640.04 L95.6 638.84 L96.6 637.64 L97.6 636.46 L98.6 635.28 L99.6 634.1 L100.6 632.94 L101.6 631.78 L102.6 630.63 L103.6 629.48 L104.6 628.35 L105.6 627.22 L106.6 626.1 L107.6 624.98 L108.6 623.87 L109.6 622.77 L110.6 621.68 L111.6 620.6 L112.6 619.52 L113.6 618.45 L114.6 617.39 L115.6 616.33 L116.6 615.28 L117.6 614.24 L118.6 613.21 L119.6 612.18 L120.6 611.16 L121.6 610.15 L122.6 609.14 L123.6 608.14 L124.6 607.15 L125.6 606.17 L126.6 605.19 L127.6 604.22 L128.6 603.26 L129.6 602.3 L130.6 601.35 L131.6 600.41 L132.6 599.47 L133.6 598.54 L134.6 597.62 L135.6 596.71 L136.6 595.8 L137.6 594.9 L138.6 594.01 L139.6 593.12 L140.6 592.24 L141.6 591.37 L142.6 590.5 L143.6 589.64 L144.6 588.79 L145.6 587.94 L146.6 587.1 L147.6 586.27 L148.6 585.44 L149.6 584.62 L150.6 583.81 L151.6 583.01 L152.6 582.21 L153.6 581.41 L154.6 580.63 L155.6 579.85 L156.6 579.08 L157.6 578.31 L158.6 577.55 L159.6 576.8 L160.6 576.05 L161.6 575.31 L162.6 574.58 L163.6 573.85 L164.6 573.13 L165.6 572.41 L166.6 571.71 L167.6 571 L168.6 570.31 L169.6 569.62 L170.6 568.94 L171.6 568.26 L172.6 567.59 L173.6 566.93 L174.6 566.27 L175.6 565.62 L176.6 564.98 L177.6 564.34 L178.6 563.7 L179.6 563.08 L180.6 562.46 L181.6 561.84 L182.6 561.24 L183.6 560.64 L184.6 560.04 L185.6 559.45 L186.6 558.87 L187.6 558.29 L188.6 557.72 L189.6 557.16 L190.6 556.6 L191.6 556.04 L192.6 555.5 L193.6 554.96 L194.6 554.42 L195.6 553.89 L196.6 553.37 L197.6 552.85 L198.6 552.34 L199.6 551.83 L200.6 551.33 L201.6 550.84 L202.6 550.35 L203.6 549.87 L204.6 549.39 L205.6 548.92 L206.6 548.46 L207.6 548 L208.6 547.54 L209.6 547.1 L210.6 546.65 L211.6 546.22 L212.6 545.79 L213.6 545.36 L214.6 544.94 L215.6 544.53 L216.6 544.12 L217.6 543.72 L218.6 543.32 L219.6 542.93 L220.6 542.54 L221.6 542.16 L222.6 541.78 L223.6 541.41 L224.6 541.05 L225.6 540.69 L226.6 540.34 L227.6 539.99 L228.6 539.65 L229.6 539.31 L230.6 538.98 L231.6 538.65 L232.6 538.33 L233.6 538.01 L234.6 537.7 L235.6 537.39 L236.6 537.09 L237.6 536.8 L238.6 536.51 L239.6 536.22 L240.6 535.94 L241.6 535.67 L242.6 535.4 L243.6 535.13 L244.6 534.87 L245.6 534.62 L246.6 534.37 L247.6 534.12 L248.6 533.88 L249.6 533.65 L250.6 533.42 L251.6 533.19 L252.6 532.97 L253.6 532.76 L254.6 532.55 L255.6 532.34 L256.6 532.14 L257.6 531.95 L258.6 531.76 L259.6 531.57 L260.6 531.39 L261.6 531.21 L262.6 531.04 L263.6 530.88 L264.6 530.71 L265.6 530.56 L266.6 530.4 L267.6 530.26 L268.6 530.11 L269.6 529.98 L270.6 529.84 L271.6 529.71 L272.6 529.59 L273.6 529.47 L274.6 529.35 L275.6 529.24 L276.6 529.13 L277.6 529.03 L278.6 528.93 L279.6 528.84 L280.6 528.75 L281.6 528.67 L282.6 528.59 L283.6 528.51 L284.6 528.44 L285.6 528.37 L286.6 528.31 L287.6 528.25 L288.6 528.2 L289.6 528.15 L290.6 528.1 L291.6 528.06 L292.6 528.02 L293.6 527.99 L294.6 527.96 L295.6 527.93 L296.6 527.91 L297.6 527.9 L298.6 527.88 L299.6 527.88 L300.6 527.87 L301.6 527.87 L302.6 527.88 L303.6 527.88 L304.6 527.9 L304.8 527.9" stroke="#157015"/>
<path d="M84.6 652.5 L85.6 651.23 L86.6 649.97 L87.6 648.72 L88.6 647.48 L89.6 646.24 L90.6 645.01 L91.6 643.79 L92.6 642.58 L93.6 641.37 L94.6 640.17 L95.6 638.98 L96.6 637.8 L97.6 636.62 L98.6 635.45 L99.6 634.29 L100.6 633.14 L101.6 631.99 L102.6 630.85 L103.6 629.72 L104.6 628.6 L105.6 627.48 L106.6 626.37 L107.6 625.27 L108.6 624.18 L109.6 623.09 L110.6 622.01 L111.6 620.94 L112.6 619.87 L113.6 618.81 L114.6 617.76 L115.6 616.72 L116.6 615.68 L117.6 614.65 L118.6 613.63 L119.6 612.61 L120.6 611.6 L121.6 610.6 L122.6 609.61 L123.6 608.62 L124.6 607.64 L125.6 606.66 L126.6 605.7 L127.6 604.74 L128.6 603.78 L129.6 602.84 L130.6 601.9 L131.6 600.97 L132.6 600.04 L133.6 599.12 L134.6 598.21 L135.6 597.31 L136.6 596.41 L137.6 595.52 L138.6 594.63 L139.6 593.76 L140.6 592.88 L141.6 592.02 L142.6 591.16 L143.6 590.31 L144.6 589.47 L145.6 588.63 L146.6 587.8 L147.6 586.97 L148.6 586.16 L149.6 585.34 L150.6 584.54 L151.6 583.74 L152.6 582.95 L153.6 582.16 L154.6 581.38 L155.6 580.61 L156.6 579.85 L157.6 579.09 L158.6 578.33 L159.6 577.59 L160.6 576.85 L161.6 576.11 L162.6 575.38 L163.6 574.66 L164.6 573.95 L165.6 573.24 L166.6 572.53 L167.6 571.84 L168.6 571.15 L169.6 570.46 L170.6 569.78 L171.6 569.11 L172.6 568.45 L173.6 567.79 L174.6 567.13 L175.6 566.49 L176.6 565.85 L177.6 565.21 L178.6 564.58 L179.6 563.96 L180.6 563.34 L181.6 562.73 L182.6 562.12 L183.6 561.52 L184.6 560.93 L185.6 560.34 L186.6 559.76 L187.6 559.19 L188.6 558.62 L189.6 558.05 L190.6 557.49 L191.6 556.94 L192.6 556.4 L193.6 555.86 L194.6 555.32 L195.6 554.79 L196.6 554.27 L197.6 553.75 L198.6 553.24 L199.6 552.73 L200.6 552.23 L201.6 551.74 L202.6 551.25 L203.6 550.76 L204.6 550.28 L205.6 549.81 L206.6 549.34 L207.6 548.88 L208.6 548.43 L209.6 547.98 L210.6 547.53 L211.6 547.09 L212.6 546.66 L213.6 546.23 L214.6 545.81 L215.6 545.39 L216.6 544.98 L217.6 544.57 L218.6 544.17 L219.6 543.77 L220.6 543.38 L221.6 542.99 L222.6 542.61 L223.6 542.24 L224.6 541.87 L225.6 541.5 L226.6 541.15 L227.6 540.79 L228.6 540.44 L229.6 540.1 L230.6 539.76 L231.6 539.43 L232.6 539.1 L233.6 538.77 L234.6 538.46 L235.6 538.14 L236.6 537.84 L237.6 537.53 L238.6 537.23 L239.6 536.94 L240.6 536.65 L241.6 536.37 L242.6 536.09 L243.6 535.82 L244.6 535.55 L245.6 535.29 L246.6 535.03 L247.6 534.78 L248.6 534.53 L249.6 534.29 L250.6 534.05 L251.6 533.81 L252.6 533.58 L253.6 533.36 L254.6 533.14 L255.6 532.92 L256.6 532.71 L257.6 532.51 L258.6 532.31 L259.6 532.11 L260.6 531.92 L261.6 531.74 L262.6 531.55 L263.6 531.38 L264.6 531.2 L265.6 531.04 L266.6 530.87 L267.6 530.71 L268.6 530.56 L269.6 530.41 L270.6 530.26 L271.6 530.12 L272.6 529.99 L273.6 529.85 L274.6 529.73 L275.6 529.6 L276.6 529.48 L277.6 529.37 L278.6 529.26 L279.6 529.16 L280.6 529.05 L281.6 528.96 L282.6 528.87 L283.6 528.78 L284.6 528.69 L285.6 528.61 L286.6 528.54 L287.6 528.47 L288.6 528.4 L289.6 528.34 L290.6 528.28 L291.6 528.23 L292.6 528.18 L293.6 528.13 L294.6 528.09 L295.6 528.05 L296.6 528.02 L297.6 527.99 L298.6 527.96 L299.6 527.94 L300.6 527.93 L301.6 527.91 L302.6 527.9 L303.6 527.9 L304.6 527.9 L304.8 527.9" stroke="#157015"/>
</g>
<path d="M112.9 649.4 Q105.08 643.4 100.69 632.4" fill="none" stroke="#000" stroke-width="2.5"/>
<path d="M98.6 626.2 L105.09 633.72 L97 636 Z" fill="#000"/>
<rect x="66.3" y="515.5" width="256.8" height="189.3" fill="none" stroke="#000" stroke-width="1.3"/>
<path d="M84.64 704.8v-7 M102.99 704.8v-4 M121.33 704.8v-7 M139.67 704.8v-4 M158.01 704.8v-7 M176.36 704.8v-4 M194.7 704.8v-7 M213.04 704.8v-4 M231.39 704.8v-7 M249.73 704.8v-4 M268.07 704.8v-7 M286.41 704.8v-4 M304.76 704.8v-7 M84.64 515.5v4 M102.99 515.5v4 M121.33 515.5v4 M139.67 515.5v4 M158.01 515.5v4 M176.36 515.5v4 M194.7 515.5v4 M213.04 515.5v4 M231.39 515.5v4 M249.73 515.5v4 M268.07 515.5v4 M286.41 515.5v4 M304.76 515.5v4 M66.3 528.12h7 M323.1 528.12h-4 M66.3 540.74h4 M323.1 540.74h-4 M66.3 553.36h7 M323.1 553.36h-4 M66.3 565.98h4 M323.1 565.98h-4 M66.3 578.6h7 M323.1 578.6h-4 M66.3 591.22h4 M323.1 591.22h-4 M66.3 603.84h7 M323.1 603.84h-4 M66.3 616.46h4 M323.1 616.46h-4 M66.3 629.08h7 M323.1 629.08h-4 M66.3 641.7h4 M323.1 641.7h-4 M66.3 654.32h7 M323.1 654.32h-4 M66.3 666.94h4 M323.1 666.94h-4 M66.3 679.56h7 M323.1 679.56h-4 M66.3 692.18h4 M323.1 692.18h-4" stroke="#000" stroke-width="1.2" fill="none"/>
<text x="84.64" y="720.1" font-size="10" font-weight="bold" text-anchor="middle">-3.0</text>
<text x="121.33" y="720.1" font-size="10" font-weight="bold" text-anchor="middle">-2.5</text>
<text x="158.01" y="720.1" font-size="10" font-weight="bold" text-anchor="middle">-2.0</text>
<text x="194.7" y="720.1" font-size="10" font-weight="bold" text-anchor="middle">-1.5</text>
<text x="231.39" y="720.1" font-size="10" font-weight="bold" text-anchor="middle">-1.0</text>
<text x="268.07" y="720.1" font-size="10" font-weight="bold" text-anchor="middle">-0.5</text>
<text x="304.76" y="720.1" font-size="10" font-weight="bold" text-anchor="middle">0.0</text>
<text x="57.9" y="530.02" font-size="10" font-weight="bold" text-anchor="end">0.0</text>
<text x="57.9" y="557.56" font-size="10" font-weight="bold" text-anchor="end" letter-spacing="0.1">-5.0x10<tspan font-size="6.6" dy="-5.9" letter-spacing="0">-5</tspan></text>
<text x="57.9" y="582.8" font-size="10" font-weight="bold" text-anchor="end" letter-spacing="0.1">-1.0x10<tspan font-size="6.6" dy="-5.9" letter-spacing="0">-4</tspan></text>
<text x="57.9" y="608.04" font-size="10" font-weight="bold" text-anchor="end" letter-spacing="0.1">-1.5x10<tspan font-size="6.6" dy="-5.9" letter-spacing="0">-4</tspan></text>
<text x="57.9" y="633.28" font-size="10" font-weight="bold" text-anchor="end" letter-spacing="0.1">-2.0x10<tspan font-size="6.6" dy="-5.9" letter-spacing="0">-4</tspan></text>
<text x="57.9" y="658.52" font-size="10" font-weight="bold" text-anchor="end" letter-spacing="0.1">-2.5x10<tspan font-size="6.6" dy="-5.9" letter-spacing="0">-4</tspan></text>
<text x="57.9" y="683.76" font-size="10" font-weight="bold" text-anchor="end" letter-spacing="0.1">-3.0x10<tspan font-size="6.6" dy="-5.9" letter-spacing="0">-4</tspan></text>
<text x="57.9" y="709" font-size="10" font-weight="bold" text-anchor="end" letter-spacing="0.1">-3.5x10<tspan font-size="6.6" dy="-5.9" letter-spacing="0">-4</tspan></text>
<rect x="258.3" y="539.2" width="57.3" height="75" fill="#fff" stroke="#555" stroke-width="1"/>
<line x1="261" y1="548.2" x2="289.3" y2="548.2" stroke="#000000" stroke-width="2.2"/>
<text x="292.1" y="552.3" font-size="10.5" font-weight="bold" letter-spacing="0.35">1st</text>
<line x1="261" y1="563.05" x2="289.3" y2="563.05" stroke="#e61414" stroke-width="2.2"/>
<text x="292.1" y="567.15" font-size="10.5" font-weight="bold" letter-spacing="0.35">2nd</text>
<line x1="261" y1="577.9" x2="289.3" y2="577.9" stroke="#1010dc" stroke-width="2.2"/>
<text x="292.1" y="582" font-size="10.5" font-weight="bold" letter-spacing="0.35">3rd</text>
<line x1="261" y1="592.75" x2="289.3" y2="592.75" stroke="#e016e6" stroke-width="2.2"/>
<text x="292.1" y="596.85" font-size="10.5" font-weight="bold" letter-spacing="0.35">4th</text>
<line x1="261" y1="607.6" x2="289.3" y2="607.6" stroke="#157015" stroke-width="2.2"/>
<text x="292.1" y="611.7" font-size="10.5" font-weight="bold" letter-spacing="0.35">5th</text>
<text x="68.6" y="507.8" font-size="21.3" font-weight="bold" textLength="26.4" lengthAdjust="spacingAndGlyphs">(e)</text>
<text x="194.7" y="735.2" font-size="15" text-anchor="middle" textLength="76.2" lengthAdjust="spacingAndGlyphs">Voltage (V)</text>
<text transform="translate(13 614.8) rotate(-90)" font-size="15.5" text-anchor="middle" textLength="76.5" lengthAdjust="spacingAndGlyphs">Current (A)</text>
<text x="233.8" y="668.1" font-size="17.3" font-weight="bold" text-anchor="middle" textLength="157" lengthAdjust="spacingAndGlyphs" stroke="#fff" stroke-width="0.28">GQD concentration</text>
<text x="233.8" y="687.3" font-size="17.3" font-weight="bold" text-anchor="middle" stroke="#fff" stroke-width="0.28">20%</text>
</g></svg></body></html>
